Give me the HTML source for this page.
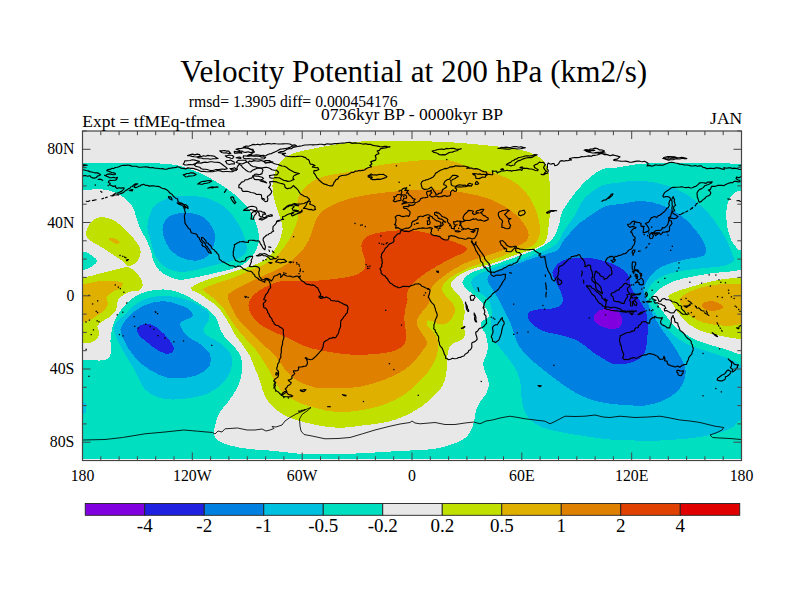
<!DOCTYPE html>
<html><head><meta charset="utf-8"><title>Velocity Potential at 200 hPa</title>
<style>
html,body{margin:0;padding:0;background:#fff;}
body{width:800px;height:600px;position:relative;overflow:hidden;font-family:"Liberation Serif",serif;color:#000;}
.t{position:absolute;white-space:nowrap;line-height:1;font-family:"Liberation Serif",serif;}
.t span{display:inline-block}
</style></head><body>
<svg width="800" height="600" viewBox="0 0 800 600" style="position:absolute;left:0;top:0">
<defs><clipPath id="fr"><rect x="82.5" y="131.0" width="659.0" height="328.0"/></clipPath></defs>
<g clip-path="url(#fr)" shape-rendering="crispEdges">
<rect x="82.5" y="131.0" width="659.0" height="329.5" fill="#e8e8e8"/>
<path d="M60.0,360.0 C63.8,340.0 75.5,360.0 83.0,360.0 C90.5,360.0 100.3,361.2 105.0,360.0 C109.7,358.8 110.1,355.8 111.0,352.5 C111.9,349.2 110.2,344.2 110.5,340.0 C110.8,335.8 111.3,331.7 112.5,327.5 C113.7,323.3 115.0,319.2 117.5,315.0 C120.0,310.8 123.8,306.0 127.5,302.5 C131.2,299.0 135.4,295.8 140.0,293.8 C144.6,291.7 150.0,290.6 155.0,290.0 C160.0,289.4 165.0,289.2 170.0,290.0 C175.0,290.8 180.7,293.1 185.0,295.0 C189.3,296.9 193.2,299.8 196.0,301.5 C198.8,303.2 200.0,304.2 202.0,305.5 C204.0,306.8 206.2,308.1 208.0,309.5 C209.8,310.9 211.6,312.4 213.0,314.0 C214.4,315.6 215.6,317.3 216.5,319.0 C217.4,320.7 217.8,322.2 218.5,324.0 C219.2,325.8 219.7,328.2 220.5,330.0 C221.3,331.8 222.4,333.3 223.5,335.0 C224.6,336.7 225.4,338.2 227.0,340.0 C228.6,341.8 231.2,343.6 233.0,345.5 C234.8,347.4 236.7,349.6 238.0,351.5 C239.3,353.4 240.3,354.6 241.0,357.0 C241.7,359.4 242.0,362.5 242.0,366.0 C242.0,369.5 242.0,374.0 241.0,378.0 C240.0,382.0 238.2,386.0 236.0,390.0 C233.8,394.0 230.7,398.3 228.0,402.0 C225.3,405.7 222.0,408.7 220.0,412.0 C218.0,415.3 217.0,418.7 216.0,422.0 C215.0,425.3 213.8,429.0 214.0,432.0 C214.2,435.0 214.3,437.8 217.0,440.0 C219.7,442.2 224.5,444.0 230.0,445.5 C235.5,447.0 242.5,448.1 250.0,449.0 C257.5,449.9 266.7,450.2 275.0,451.0 C283.3,451.8 291.7,453.2 300.0,453.8 C308.3,454.3 316.7,454.5 325.0,454.5 C333.3,454.5 341.7,454.1 350.0,453.8 C358.3,453.4 366.7,453.0 375.0,452.5 C383.3,452.0 392.5,451.4 400.0,451.0 C407.5,450.6 414.2,450.4 420.0,450.0 C425.8,449.6 430.0,449.6 435.0,448.8 C440.0,447.9 445.4,446.5 450.0,445.0 C454.6,443.5 459.2,442.1 462.5,440.0 C465.8,437.9 468.1,435.4 470.0,432.5 C471.9,429.6 472.7,426.2 473.8,422.5 C474.8,418.8 475.2,413.4 476.2,410.0 C477.3,406.6 478.4,404.7 480.0,402.0 C481.6,399.3 484.5,397.0 486.0,394.0 C487.5,391.0 489.0,387.3 489.0,384.0 C489.0,380.7 487.0,377.3 486.0,374.0 C485.0,370.7 483.0,367.0 483.0,364.0 C483.0,361.0 485.2,358.8 486.0,356.0 C486.8,353.2 488.0,350.3 488.0,347.0 C488.0,343.7 487.0,338.9 486.2,336.2 C485.5,333.6 484.6,332.9 483.8,331.2 C482.9,329.6 481.7,327.7 481.2,326.2 C480.8,324.8 480.6,323.6 481.2,322.5 C481.9,321.4 483.8,320.4 485.0,319.4 C486.2,318.4 488.3,317.6 488.8,316.2 C489.2,314.9 488.3,313.1 487.5,311.2 C486.7,309.4 485.2,307.1 483.8,305.0 C482.3,302.9 480.6,300.6 478.8,298.8 C476.9,296.9 474.6,295.4 472.5,293.8 C470.4,292.1 467.9,290.9 466.2,289.0 C464.6,287.1 462.5,284.6 462.5,282.5 C462.5,280.4 464.2,278.1 466.2,276.2 C468.3,274.4 471.0,272.9 475.0,271.2 C479.0,269.6 484.6,268.1 490.0,266.2 C495.4,264.4 501.7,262.1 507.5,260.0 C513.3,257.9 519.6,255.8 525.0,253.8 C530.4,251.7 535.7,249.7 540.0,247.5 C544.3,245.3 548.2,243.1 551.0,240.5 C553.8,237.9 555.1,234.9 556.5,232.0 C557.9,229.1 558.6,226.2 559.5,223.0 C560.4,219.8 560.3,215.9 561.8,212.5 C563.2,209.1 565.7,205.8 568.0,202.5 C570.3,199.2 573.0,195.6 575.5,192.5 C578.0,189.4 580.1,186.7 583.0,183.8 C585.9,180.8 589.7,177.5 593.0,175.0 C596.3,172.5 598.9,170.0 603.0,168.8 C607.1,167.5 612.2,168.2 617.5,167.5 C622.8,166.8 628.8,165.2 635.0,164.5 C641.2,163.8 647.5,163.3 655.0,163.0 C662.5,162.7 670.8,162.5 680.0,162.5 C689.2,162.5 699.8,162.8 710.0,163.0 C720.2,163.2 731.8,163.6 741.0,163.8 C750.2,163.9 761.0,159.2 765.0,163.8 C769.0,168.3 769.0,186.7 765.0,191.2 C761.0,195.8 746.0,191.0 741.0,191.2 C736.0,191.5 737.0,191.0 735.0,192.5 C733.0,194.0 730.2,196.7 728.8,200.0 C727.3,203.3 726.5,207.9 726.2,212.5 C726.0,217.1 726.7,222.9 727.5,227.5 C728.3,232.1 729.6,236.5 731.2,240.0 C732.9,243.5 735.9,247.1 737.5,248.8 C739.1,250.4 736.4,249.8 741.0,250.0 C745.6,250.2 761.0,246.5 765.0,250.0 C769.0,253.5 769.0,267.9 765.0,271.2 C761.0,274.6 747.1,270.2 741.0,270.3 C734.9,270.4 733.2,271.2 728.3,271.7 C723.4,272.2 717.8,272.5 711.7,273.3 C705.6,274.1 697.8,275.4 691.7,276.7 C685.6,277.9 680.0,279.0 675.0,280.8 C670.0,282.6 665.0,285.5 661.7,287.5 C658.4,289.5 656.5,291.6 655.0,293.0 C653.5,294.4 652.9,295.5 652.5,296.0 C652.1,296.5 651.5,294.5 652.5,296.0 C653.5,297.5 655.9,301.6 658.3,305.0 C660.7,308.4 663.9,313.1 666.7,316.7 C669.5,320.3 671.7,323.6 675.0,326.7 C678.3,329.8 682.5,332.5 686.7,335.0 C690.9,337.5 695.0,339.8 700.0,341.7 C705.0,343.6 711.7,345.2 716.7,346.7 C721.7,348.2 726.0,349.6 730.0,350.8 C734.0,352.0 735.2,354.1 741.0,354.0 C746.8,353.9 761.0,329.0 765.0,350.0 C769.0,371.0 882.5,458.3 765.0,480.0 C647.5,501.7 177.5,500.0 60.0,480.0 C-57.5,460.0 56.2,380.0 60.0,360.0Z" fill="#00e0c0"/>
<path d="M60.0,163.5 C63.8,159.0 76.3,163.6 83.0,163.5 C89.7,163.4 92.2,163.1 100.0,163.0 C107.8,162.9 120.0,162.9 130.0,163.0 C140.0,163.1 151.7,163.0 160.0,163.5 C168.3,164.0 173.3,164.4 180.0,166.0 C186.7,167.6 193.3,170.0 200.0,173.0 C206.7,176.0 213.3,179.7 220.0,184.0 C226.7,188.3 234.7,194.0 240.0,199.0 C245.3,204.0 249.0,208.8 252.0,214.0 C255.0,219.2 256.9,225.2 258.0,230.0 C259.1,234.8 259.3,238.8 258.5,243.0 C257.7,247.2 255.6,251.4 253.0,255.0 C250.4,258.6 246.8,262.1 243.0,264.5 C239.2,266.9 234.7,268.1 230.0,269.5 C225.3,270.9 220.0,271.8 215.0,273.0 C210.0,274.2 204.2,275.6 200.0,276.5 C195.8,277.4 193.2,277.9 190.0,278.5 C186.8,279.1 184.0,279.9 181.0,279.8 C178.0,279.7 175.0,279.1 172.0,278.0 C169.0,276.9 165.5,275.2 163.0,273.5 C160.5,271.8 158.6,269.8 157.0,267.5 C155.4,265.2 154.2,262.8 153.2,260.0 C152.2,257.2 151.9,253.8 151.0,251.0 C150.1,248.2 149.2,246.2 148.0,243.5 C146.8,240.8 145.0,237.5 143.5,234.5 C142.0,231.5 140.2,228.5 139.0,225.5 C137.8,222.5 137.0,219.5 136.0,216.5 C135.0,213.5 134.5,210.2 133.0,207.5 C131.5,204.8 130.0,202.5 127.0,200.0 C124.0,197.5 119.5,194.3 115.0,192.5 C110.5,190.7 105.3,189.3 100.0,189.0 C94.7,188.7 89.7,190.2 83.0,190.5 C76.3,190.8 63.8,195.0 60.0,190.5 C56.2,186.0 56.2,168.0 60.0,163.5Z" fill="#00e0c0"/>
<path d="M60.0,251.8 C63.9,248.8 78.1,251.0 83.5,251.8 C88.9,252.5 90.2,254.8 92.5,256.2 C94.8,257.8 97.0,259.1 97.0,260.8 C97.0,262.4 94.8,264.5 92.5,266.0 C90.2,267.5 88.9,269.1 83.5,269.8 C78.1,270.4 63.9,272.8 60.0,269.8 C56.1,266.8 56.1,254.8 60.0,251.8Z" fill="#00e0c0"/>
<path d="M147.5,225.0 C147.8,222.0 148.8,217.3 150.0,214.0 C151.2,210.7 152.3,207.5 155.0,205.0 C157.7,202.5 161.8,200.5 166.0,199.0 C170.2,197.5 173.5,196.5 180.0,196.2 C186.5,196.0 197.5,195.6 205.0,197.5 C212.5,199.4 219.6,203.3 225.0,207.5 C230.4,211.7 234.3,217.8 237.5,222.5 C240.7,227.2 242.4,231.8 244.0,236.0 C245.6,240.2 247.0,244.3 247.0,247.5 C247.0,250.7 245.8,252.9 243.8,255.0 C241.8,257.1 239.0,258.5 235.0,260.0 C231.0,261.5 225.0,262.5 220.0,263.8 C215.0,265.0 210.0,266.2 205.0,267.5 C200.0,268.8 195.0,270.6 190.0,271.2 C185.0,271.9 179.6,272.3 175.0,271.2 C170.4,270.2 165.8,267.7 162.5,265.0 C159.2,262.3 156.9,258.8 155.0,255.0 C153.1,251.2 152.4,246.3 151.2,242.5 C150.1,238.7 148.6,234.9 148.0,232.0 C147.4,229.1 147.2,228.0 147.5,225.0Z" fill="#00c0e0"/>
<path d="M114.0,327.0 C114.5,324.5 116.2,322.4 118.5,320.0 C120.8,317.6 124.8,315.0 127.5,312.5 C130.2,310.0 132.0,307.2 135.0,305.0 C138.0,302.8 141.5,300.5 145.5,299.0 C149.5,297.5 154.2,296.4 159.0,296.0 C163.8,295.6 169.0,296.0 174.0,296.8 C179.0,297.5 185.2,299.2 189.0,300.5 C192.8,301.8 194.7,303.2 197.0,304.5 C199.3,305.8 201.3,306.9 203.0,308.0 C204.7,309.1 206.2,309.8 207.2,311.0 C208.3,312.2 209.2,313.5 209.5,315.0 C209.8,316.5 209.4,318.3 208.8,320.0 C208.1,321.7 206.6,323.4 205.8,325.0 C204.9,326.6 203.6,328.1 203.5,329.5 C203.4,330.9 204.0,332.2 205.0,333.5 C206.0,334.8 207.9,335.9 209.5,337.0 C211.1,338.1 213.0,339.0 214.8,340.0 C216.5,341.0 218.4,341.9 220.0,343.0 C221.6,344.1 223.0,345.3 224.5,346.8 C226.0,348.2 227.8,349.8 229.0,351.5 C230.2,353.2 231.0,354.9 231.5,357.0 C232.0,359.1 232.2,361.5 232.0,364.0 C231.8,366.5 231.3,369.0 230.0,372.0 C228.7,375.0 226.7,379.0 224.0,382.0 C221.3,385.0 217.3,387.8 214.0,390.0 C210.7,392.2 208.0,393.7 204.0,395.0 C200.0,396.3 195.2,397.2 190.0,398.0 C184.8,398.8 178.0,399.7 172.5,399.5 C167.0,399.3 161.6,398.7 157.0,397.0 C152.4,395.3 147.9,392.3 145.0,389.5 C142.1,386.7 141.4,383.6 139.5,380.0 C137.6,376.4 135.8,372.0 133.5,368.0 C131.2,364.0 128.2,359.8 126.0,356.0 C123.8,352.2 121.8,349.0 120.0,345.5 C118.2,342.0 116.5,338.1 115.5,335.0 C114.5,331.9 113.5,329.5 114.0,327.0Z" fill="#00c0e0"/>
<path d="M635.0,180.5 C629.2,180.5 625.2,181.8 620.0,182.5 C614.8,183.2 608.3,183.3 603.5,185.0 C598.7,186.7 594.8,189.6 591.0,192.5 C587.2,195.4 583.6,198.8 581.0,202.5 C578.4,206.2 577.6,210.8 575.5,214.5 C573.4,218.2 570.7,221.3 568.5,224.5 C566.3,227.7 564.3,230.4 562.5,233.5 C560.7,236.6 559.9,240.4 557.5,243.0 C555.1,245.6 552.6,246.8 548.0,249.0 C543.4,251.2 535.9,254.0 530.0,256.2 C524.1,258.5 518.3,260.6 512.5,262.5 C506.7,264.4 500.0,265.8 495.0,267.5 C490.0,269.2 486.0,270.8 482.5,272.5 C479.0,274.2 475.6,275.8 473.8,277.5 C471.9,279.2 471.2,280.4 471.2,282.5 C471.3,284.6 472.5,288.2 474.0,290.0 C475.5,291.8 478.0,291.8 480.0,293.0 C482.0,294.2 484.3,295.8 486.0,297.5 C487.7,299.2 489.0,300.6 490.0,303.0 C491.0,305.4 491.8,308.5 492.0,312.0 C492.2,315.5 490.8,319.7 491.0,324.0 C491.2,328.3 491.5,334.0 493.0,338.0 C494.5,342.0 497.5,344.7 500.0,348.0 C502.5,351.3 505.5,354.7 508.0,358.0 C510.5,361.3 513.0,364.3 515.0,368.0 C517.0,371.7 519.0,376.0 520.0,380.0 C521.0,384.0 520.6,388.0 521.0,392.0 C521.4,396.0 521.7,400.3 522.5,404.0 C523.3,407.7 524.4,411.2 526.0,414.0 C527.6,416.8 529.2,418.8 532.0,421.0 C534.8,423.2 537.8,425.7 542.5,427.5 C547.2,429.3 552.9,430.5 560.0,432.0 C567.1,433.5 576.7,435.0 585.0,436.2 C593.3,437.5 601.7,438.8 610.0,439.5 C618.3,440.2 626.7,440.3 635.0,440.5 C643.3,440.7 651.7,440.8 660.0,440.5 C668.3,440.2 677.5,439.5 685.0,438.8 C692.5,438.0 699.2,437.3 705.0,436.2 C710.8,435.2 715.4,434.0 720.0,432.5 C724.6,431.0 729.0,429.6 732.5,427.5 C736.0,425.4 735.6,421.2 741.0,420.0 C746.4,418.8 761.0,430.2 765.0,420.0 C769.0,409.8 769.0,368.0 765.0,358.8 C761.0,349.5 745.8,364.0 741.0,364.5 C736.2,365.0 738.3,363.1 736.0,362.0 C733.7,360.9 730.5,359.3 727.0,358.0 C723.5,356.7 719.0,355.3 715.0,354.0 C711.0,352.7 706.9,351.3 703.0,350.0 C699.1,348.7 695.5,347.7 691.7,346.0 C687.9,344.3 683.6,342.4 680.0,340.0 C676.4,337.6 673.0,334.8 670.0,331.7 C667.0,328.6 664.5,325.3 661.7,321.7 C658.9,318.1 655.7,313.7 653.3,310.0 C650.9,306.3 648.6,302.2 647.5,299.5 C646.4,296.8 646.7,294.9 646.5,294.0 C646.3,293.1 646.1,295.1 646.5,294.0 C646.9,292.9 647.9,289.6 649.0,287.5 C650.1,285.4 650.9,283.6 653.3,281.7 C655.7,279.8 659.4,277.5 663.3,275.8 C667.2,274.1 671.7,272.8 676.7,271.7 C681.7,270.6 687.8,269.9 693.3,269.2 C698.8,268.5 705.0,268.0 710.0,267.5 C715.0,267.0 719.7,266.8 723.3,266.0 C726.9,265.2 729.7,264.2 731.5,263.0 C733.3,261.8 733.8,260.3 734.0,259.0 C734.2,257.7 733.4,257.3 732.5,255.0 C731.6,252.7 730.2,248.3 728.8,245.0 C727.3,241.7 725.6,238.3 723.8,235.0 C721.9,231.7 719.8,228.3 717.5,225.0 C715.2,221.7 712.9,218.3 710.0,215.0 C707.1,211.7 703.8,208.3 700.0,205.0 C696.2,201.7 692.1,197.9 687.5,195.0 C682.9,192.1 677.9,189.6 672.5,187.5 C667.1,185.4 661.2,183.7 655.0,182.5 C648.8,181.3 640.8,180.5 635.0,180.5Z" fill="#00c0e0"/>
<path d="M60.0,402.0 C63.8,400.0 78.7,401.0 83.0,402.0 C87.3,403.0 86.0,406.0 86.0,408.0 C86.0,410.0 87.3,413.0 83.0,414.0 C78.7,415.0 63.8,416.0 60.0,414.0 C56.2,412.0 56.2,404.0 60.0,402.0Z" fill="#00c0e0"/>
<path d="M162.5,230.0 C162.4,227.2 162.9,224.8 164.0,222.5 C165.1,220.2 166.7,218.0 169.0,216.5 C171.3,215.0 174.5,214.1 178.0,213.5 C181.5,212.9 186.3,212.7 190.0,213.0 C193.7,213.3 197.2,214.3 200.0,215.5 C202.8,216.7 205.0,218.1 207.0,220.0 C209.0,221.9 210.7,224.5 212.0,227.0 C213.3,229.5 214.8,231.8 215.0,235.0 C215.2,238.2 214.8,242.5 213.5,246.0 C212.2,249.5 210.2,253.6 207.5,256.0 C204.8,258.4 201.2,260.0 197.5,260.5 C193.8,261.0 189.0,260.2 185.5,259.2 C182.0,258.3 179.2,256.9 176.5,255.0 C173.8,253.1 171.0,250.7 169.0,248.0 C167.0,245.3 165.6,242.0 164.5,239.0 C163.4,236.0 162.6,232.8 162.5,230.0Z" fill="#0080e0"/>
<path d="M121.2,327.5 C122.7,324.6 126.0,318.8 130.0,315.0 C134.0,311.2 139.6,307.3 145.0,305.0 C150.4,302.7 156.7,301.2 162.5,301.2 C168.3,301.2 175.4,303.5 180.0,305.0 C184.6,306.5 187.9,308.1 190.0,310.0 C192.1,311.9 193.3,314.6 192.5,316.2 C191.7,317.9 187.1,318.8 185.0,320.0 C182.9,321.2 180.2,321.7 180.0,323.8 C179.8,325.8 182.3,330.1 184.0,332.5 C185.7,334.9 188.2,336.6 190.0,338.0 C191.8,339.4 192.9,339.8 194.5,340.8 C196.1,341.7 198.0,342.5 199.8,343.8 C201.5,345.0 203.5,346.9 205.0,348.2 C206.5,349.6 207.8,350.5 208.8,352.0 C209.7,353.5 210.3,354.8 210.5,357.0 C210.7,359.2 211.3,362.4 210.0,365.0 C208.7,367.6 206.2,370.4 202.5,372.5 C198.8,374.6 193.3,376.7 187.5,377.5 C181.7,378.3 173.8,378.8 167.5,377.5 C161.2,376.2 155.4,373.3 150.0,370.0 C144.6,366.7 139.2,362.1 135.0,357.5 C130.8,352.9 127.3,346.7 125.0,342.5 C122.7,338.3 121.9,335.0 121.2,332.5 C120.6,330.0 119.8,330.4 121.2,327.5Z" fill="#0080e0"/>
<path d="M637.5,201.2 C632.5,201.5 627.8,202.9 622.5,203.8 C617.2,204.6 610.4,204.6 605.5,206.2 C600.6,207.9 597.2,211.0 593.0,213.8 C588.8,216.5 584.2,219.4 580.5,222.5 C576.8,225.6 573.4,229.4 570.5,232.5 C567.6,235.6 565.1,238.3 563.0,241.2 C560.9,244.2 560.2,248.0 558.0,250.0 C555.8,252.0 553.8,251.8 550.0,253.0 C546.2,254.2 540.4,255.7 535.0,257.5 C529.6,259.3 522.9,261.9 517.5,263.8 C512.1,265.6 506.9,267.1 502.5,268.8 C498.1,270.4 493.8,272.1 491.2,273.8 C488.8,275.4 487.9,277.1 487.5,278.8 C487.1,280.4 487.8,281.9 488.8,283.8 C489.7,285.6 491.5,287.6 493.0,290.0 C494.5,292.4 496.2,294.7 498.0,298.0 C499.8,301.3 502.0,306.0 504.0,310.0 C506.0,314.0 508.3,318.0 510.0,322.0 C511.7,326.0 512.5,330.0 514.0,334.0 C515.5,338.0 516.7,342.2 519.0,346.0 C521.3,349.8 524.5,353.5 528.0,357.0 C531.5,360.5 535.7,363.5 540.0,367.0 C544.3,370.5 549.3,374.5 554.0,378.0 C558.7,381.5 563.3,385.0 568.0,388.0 C572.7,391.0 577.3,393.8 582.0,396.0 C586.7,398.2 591.0,399.7 596.0,401.0 C601.0,402.3 606.7,403.3 612.0,404.0 C617.3,404.7 623.3,404.7 628.0,405.0 C632.7,405.3 636.2,406.1 640.0,406.0 C643.8,405.9 647.0,405.2 650.5,404.5 C654.0,403.8 657.8,402.8 661.0,401.5 C664.2,400.2 667.2,398.8 670.0,397.0 C672.8,395.2 675.5,393.0 677.5,391.0 C679.5,389.0 680.8,387.2 682.0,385.0 C683.2,382.8 684.4,380.0 685.0,377.5 C685.6,375.0 685.8,372.4 685.5,370.0 C685.2,367.6 684.5,365.4 683.5,363.0 C682.5,360.6 680.9,358.0 679.5,355.5 C678.1,353.0 676.6,350.5 675.0,348.0 C673.4,345.5 671.5,342.7 670.0,340.5 C668.5,338.3 667.4,336.9 666.0,335.0 C664.6,333.1 663.4,331.5 661.7,329.0 C660.0,326.5 657.8,323.0 656.0,320.0 C654.2,317.0 652.4,313.8 651.0,311.0 C649.6,308.2 648.6,305.7 647.5,303.0 C646.4,300.3 645.2,297.3 644.5,295.0 C643.8,292.7 643.4,290.7 643.5,289.0 C643.6,287.3 644.1,286.8 645.0,285.0 C645.9,283.2 647.5,280.2 649.0,278.0 C650.5,275.8 651.9,273.9 654.0,272.0 C656.1,270.1 658.5,268.3 661.7,266.7 C664.9,265.1 669.4,263.7 673.3,262.5 C677.2,261.3 681.4,260.3 685.0,259.5 C688.6,258.7 692.1,258.3 695.0,257.8 C697.9,257.3 700.6,257.3 702.5,256.2 C704.4,255.2 706.0,253.5 706.2,251.2 C706.5,249.0 705.2,245.6 703.8,242.5 C702.3,239.4 699.8,235.6 697.5,232.5 C695.2,229.4 692.9,226.7 690.0,223.8 C687.1,220.8 683.8,217.7 680.0,215.0 C676.2,212.3 672.1,209.6 667.5,207.5 C662.9,205.4 657.5,203.5 652.5,202.5 C647.5,201.5 642.5,201.0 637.5,201.2Z" fill="#0080e0"/>
<path d="M137.0,328.8 C137.4,326.8 139.9,325.1 142.5,324.5 C145.1,323.9 149.2,323.7 152.5,325.0 C155.8,326.3 159.4,329.6 162.5,332.5 C165.6,335.4 169.4,339.6 171.2,342.5 C173.1,345.4 174.4,348.1 173.8,350.0 C173.1,351.9 170.2,353.8 167.5,353.8 C164.8,353.8 160.8,351.9 157.5,350.0 C154.2,348.1 150.4,344.8 147.5,342.5 C144.6,340.2 141.8,338.5 140.0,336.2 C138.2,334.0 136.6,330.7 137.0,328.8Z" fill="#2020e0"/>
<path d="M552.5,272.5 C552.7,270.2 554.4,267.9 556.0,266.0 C557.6,264.1 559.7,262.2 562.0,261.0 C564.3,259.8 566.6,259.3 570.0,258.8 C573.4,258.2 578.3,257.5 582.5,257.5 C586.7,257.5 590.8,258.0 595.0,258.8 C599.2,259.5 603.8,260.8 607.5,262.0 C611.2,263.2 614.6,264.7 617.5,266.2 C620.4,267.8 623.1,269.6 625.0,271.2 C626.9,272.9 627.9,274.4 628.8,276.2 C629.6,278.1 629.4,280.2 630.0,282.5 C630.6,284.8 631.2,287.5 632.5,290.0 C633.8,292.5 635.8,295.0 637.5,297.5 C639.2,300.0 641.0,302.5 642.5,305.0 C644.0,307.5 645.4,309.6 646.2,312.5 C647.1,315.4 647.3,318.8 647.5,322.5 C647.7,326.2 647.7,330.8 647.5,335.0 C647.3,339.2 647.1,344.0 646.2,347.5 C645.4,351.0 644.4,354.0 642.5,356.2 C640.6,358.5 637.9,360.0 635.0,361.2 C632.1,362.5 628.8,363.3 625.0,363.8 C621.2,364.2 616.0,364.5 612.5,363.8 C609.0,363.0 607.1,360.8 604.0,359.0 C600.9,357.2 597.3,355.3 594.0,353.0 C590.7,350.7 587.3,347.3 584.0,345.0 C580.7,342.7 578.0,340.7 574.0,339.0 C570.0,337.3 564.7,336.2 560.0,335.0 C555.3,333.8 550.0,333.3 546.0,332.0 C542.0,330.7 538.8,329.0 536.0,327.0 C533.2,325.0 530.3,322.2 529.0,320.0 C527.7,317.8 527.2,315.7 528.0,314.0 C528.8,312.3 530.7,310.8 534.0,310.0 C537.3,309.2 544.0,309.5 548.0,309.0 C552.0,308.5 555.5,308.5 558.0,307.0 C560.5,305.5 562.7,302.8 563.0,300.0 C563.3,297.2 561.3,293.3 560.0,290.0 C558.7,286.7 556.2,282.9 555.0,280.0 C553.8,277.1 552.3,274.8 552.5,272.5Z" fill="#2020e0"/>
<path d="M593.8,317.0 C594.1,315.4 595.5,313.2 597.0,312.0 C598.5,310.8 599.9,310.0 602.5,309.5 C605.1,309.0 609.6,308.0 612.5,308.8 C615.4,309.5 618.3,311.7 620.0,313.8 C621.7,315.8 622.7,319.0 622.5,321.2 C622.3,323.5 620.8,326.2 618.8,327.5 C616.7,328.8 613.1,329.3 610.0,329.0 C606.9,328.7 602.5,326.8 600.0,325.5 C597.5,324.2 596.0,322.9 595.0,321.5 C594.0,320.1 593.4,318.6 593.8,317.0Z" fill="#8000e0"/>
<path d="M367.5,141.2 C360.0,141.5 356.2,141.8 350.0,142.5 C343.8,143.2 336.2,144.5 330.0,145.5 C323.8,146.5 317.9,147.7 312.5,148.8 C307.1,149.8 301.7,150.8 297.5,152.0 C293.3,153.2 290.4,154.2 287.5,156.0 C284.6,157.8 282.1,159.8 280.0,162.5 C277.9,165.2 276.2,168.8 275.0,172.5 C273.8,176.2 272.7,180.8 272.5,185.0 C272.3,189.2 272.9,193.3 273.8,197.5 C274.6,201.7 276.3,206.2 277.5,210.0 C278.7,213.8 280.2,216.7 281.0,220.0 C281.8,223.3 282.9,226.2 282.5,230.0 C282.1,233.8 280.4,238.8 278.8,242.5 C277.1,246.2 275.2,249.4 272.5,252.5 C269.8,255.6 266.2,258.7 262.5,261.0 C258.8,263.3 253.8,265.1 250.0,266.5 C246.2,267.9 244.2,268.2 240.0,269.5 C235.8,270.8 230.0,273.0 225.0,274.5 C220.0,276.0 214.6,277.2 210.0,278.8 C205.4,280.3 200.6,282.3 197.5,283.8 C194.4,285.2 192.3,286.9 191.2,287.5 C190.2,288.1 191.0,287.0 191.2,287.5 C191.5,288.0 191.0,289.4 192.5,290.5 C194.0,291.6 197.6,292.6 200.0,294.0 C202.4,295.4 204.8,297.5 207.0,299.0 C209.2,300.5 211.3,301.8 213.0,303.0 C214.7,304.2 215.7,305.2 217.0,306.5 C218.3,307.8 219.8,309.5 221.0,311.0 C222.2,312.5 222.9,313.8 224.0,315.5 C225.1,317.2 226.4,319.2 227.5,321.0 C228.6,322.8 229.5,324.2 230.5,326.0 C231.5,327.8 232.3,330.0 233.5,332.0 C234.7,334.0 236.1,336.0 237.5,338.0 C238.9,340.0 240.6,342.0 242.0,344.0 C243.4,346.0 244.7,348.0 246.0,350.0 C247.3,352.0 248.7,353.3 250.0,356.0 C251.3,358.7 252.5,362.3 254.0,366.0 C255.5,369.7 257.7,374.3 259.0,378.0 C260.3,381.7 260.8,384.7 262.0,388.0 C263.2,391.3 264.0,394.7 266.0,398.0 C268.0,401.3 270.7,405.0 274.0,408.0 C277.3,411.0 281.7,413.8 286.0,416.0 C290.3,418.2 295.7,419.7 300.0,421.0 C304.3,422.3 307.4,423.0 312.0,424.0 C316.6,425.0 322.0,426.4 327.5,427.0 C333.0,427.6 339.2,427.8 345.0,427.5 C350.8,427.2 356.3,426.3 362.5,425.5 C368.7,424.7 376.6,423.9 382.2,422.9 C387.9,421.9 391.9,420.9 396.2,419.4 C400.6,417.9 404.4,416.2 408.5,414.1 C412.6,412.1 417.0,409.7 420.8,407.1 C424.5,404.5 428.0,401.3 431.2,398.4 C434.5,395.5 437.8,392.5 440.0,389.6 C442.2,386.7 443.4,384.1 444.5,381.0 C445.6,377.9 446.0,374.5 446.5,371.0 C447.0,367.5 447.3,362.7 447.5,360.0 C447.7,357.3 447.3,356.9 447.5,355.0 C447.7,353.1 447.9,350.6 448.8,348.8 C449.6,346.9 450.8,345.0 452.5,343.8 C454.2,342.5 456.9,342.3 458.8,341.2 C460.6,340.2 462.7,339.0 463.8,337.5 C464.8,336.0 465.0,334.2 465.0,332.5 C465.0,330.8 464.1,329.2 463.8,327.5 C463.4,325.8 463.0,324.4 463.1,322.5 C463.2,320.6 464.2,318.5 464.4,316.2 C464.6,314.0 464.7,311.2 464.4,308.8 C464.1,306.2 463.4,303.5 462.5,301.2 C461.6,299.0 460.2,296.9 458.8,295.0 C457.3,293.1 455.1,291.7 453.8,290.0 C452.4,288.3 450.7,286.6 450.5,285.0 C450.3,283.4 451.5,282.0 452.8,280.5 C454.0,279.0 455.9,277.4 458.0,276.0 C460.1,274.6 463.0,273.0 465.5,271.8 C468.0,270.6 470.2,269.7 473.0,268.8 C475.8,267.9 479.0,267.1 482.0,266.2 C485.0,265.4 488.0,264.6 491.0,263.7 C494.0,262.8 496.0,262.4 500.0,261.0 C504.0,259.6 510.4,256.6 515.0,255.0 C519.6,253.4 523.8,252.5 527.5,251.2 C531.2,250.0 534.6,249.0 537.5,247.5 C540.4,246.0 543.3,244.6 545.0,242.5 C546.7,240.4 546.9,237.9 547.5,235.0 C548.1,232.1 548.3,228.8 548.8,225.0 C549.2,221.2 549.8,216.7 550.0,212.5 C550.2,208.3 550.0,204.2 550.0,200.0 C550.0,195.8 550.2,191.7 550.0,187.5 C549.8,183.3 549.4,178.8 548.8,175.0 C548.1,171.2 547.7,167.9 546.2,165.0 C544.8,162.1 542.7,159.6 540.0,157.5 C537.3,155.4 534.2,154.0 530.0,152.5 C525.8,151.0 520.8,149.8 515.0,148.8 C509.2,147.7 502.5,147.1 495.0,146.2 C487.5,145.4 478.3,144.5 470.0,143.8 C461.7,143.0 453.3,142.4 445.0,142.0 C436.7,141.6 428.3,141.4 420.0,141.2 C411.7,141.1 403.8,141.2 395.0,141.2 C386.2,141.2 375.0,141.0 367.5,141.2Z" fill="#c0e000"/>
<path d="M86.2,234.5 C86.0,232.8 86.5,230.8 87.0,229.0 C87.5,227.2 88.3,225.6 89.5,224.0 C90.7,222.4 92.2,220.6 94.0,219.5 C95.8,218.4 97.2,217.4 100.0,217.2 C102.8,217.1 107.0,217.4 110.5,218.8 C114.0,220.1 117.8,222.9 121.0,225.5 C124.2,228.1 127.2,231.5 130.0,234.5 C132.8,237.5 135.8,240.8 137.5,243.5 C139.2,246.2 140.2,248.5 140.5,251.0 C140.8,253.5 140.0,256.4 139.0,258.5 C138.0,260.6 136.4,262.4 134.5,263.8 C132.6,265.1 128.9,266.0 127.8,266.5 C126.6,267.0 128.9,267.6 127.8,266.5 C126.6,265.4 123.6,262.1 121.0,260.0 C118.4,257.9 115.0,256.0 112.0,254.0 C109.0,252.0 106.0,249.9 103.0,248.0 C100.0,246.1 96.5,244.2 94.0,242.8 C91.5,241.2 89.3,240.4 88.0,239.0 C86.7,237.6 86.4,236.2 86.2,234.5Z" fill="#c0e000"/>
<path d="M60.0,277.2 C63.9,266.2 76.8,277.9 83.5,277.2 C90.2,276.6 94.8,274.8 100.0,273.5 C105.2,272.2 110.4,270.9 115.0,269.8 C119.6,268.6 125.6,267.2 127.8,266.8 C129.9,266.2 126.6,266.1 127.8,266.8 C128.9,267.4 132.4,268.6 134.5,270.5 C136.6,272.4 139.1,275.5 140.5,278.0 C141.9,280.5 143.0,283.4 142.8,285.5 C142.5,287.6 140.8,289.6 139.0,290.5 C137.2,291.4 134.4,290.3 132.0,291.0 C129.6,291.7 126.8,293.2 124.5,294.5 C122.2,295.8 119.8,297.2 118.5,299.0 C117.2,300.8 117.5,303.0 117.0,305.0 C116.5,307.0 116.8,309.0 115.5,311.0 C114.2,313.0 111.8,315.2 109.5,317.0 C107.2,318.8 104.0,320.0 102.0,321.5 C100.0,323.0 98.0,324.2 97.5,326.0 C97.0,327.8 99.0,330.0 99.0,332.0 C99.0,334.0 98.8,336.2 97.5,338.0 C96.2,339.8 93.9,341.6 91.5,342.5 C89.1,343.4 88.5,343.1 83.2,343.2 C78.0,343.4 63.9,354.2 60.0,343.2 C56.1,332.2 56.1,288.2 60.0,277.2Z" fill="#c0e000"/>
<path d="M765.0,277.5 C761.0,267.2 748.0,277.2 741.0,277.5 C734.0,277.8 729.0,278.4 723.3,279.2 C717.6,280.0 712.0,281.2 706.7,282.5 C701.4,283.8 696.4,285.3 691.7,286.7 C687.0,288.1 681.8,289.6 678.3,290.8 C674.8,292.0 672.7,293.1 671.0,294.0 C669.3,294.9 668.8,296.1 668.3,296.5 C667.8,296.9 667.5,295.1 668.3,296.5 C669.1,297.9 671.3,301.9 673.3,305.0 C675.2,308.1 677.2,311.7 680.0,315.0 C682.8,318.3 686.1,322.2 690.0,325.0 C693.9,327.8 698.3,329.9 703.3,331.7 C708.3,333.5 713.7,334.6 720.0,335.8 C726.3,337.1 733.5,338.6 741.0,339.2 C748.5,339.8 761.0,349.5 765.0,339.2 C769.0,328.9 769.0,287.8 765.0,277.5Z" fill="#c0e000"/>
<path d="M450.0,160.5 C442.5,159.2 433.3,159.7 425.0,160.0 C416.7,160.3 407.5,161.7 400.0,162.5 C392.5,163.3 386.2,164.0 380.0,165.0 C373.8,166.0 368.3,167.5 362.5,168.8 C356.7,170.0 350.4,171.5 345.0,172.5 C339.6,173.5 334.6,174.0 330.0,175.0 C325.4,176.0 321.2,177.1 317.5,178.8 C313.8,180.4 310.4,182.5 307.5,185.0 C304.6,187.5 301.7,190.8 300.0,193.8 C298.3,196.7 297.7,199.8 297.5,202.5 C297.3,205.2 298.8,207.1 298.8,210.0 C298.8,212.9 298.3,216.7 297.5,220.0 C296.7,223.3 295.4,226.2 293.8,230.0 C292.1,233.8 290.2,238.3 287.5,242.5 C284.8,246.7 281.2,251.4 277.5,255.0 C273.8,258.6 269.6,261.4 265.0,264.0 C260.4,266.6 255.0,268.3 250.0,270.5 C245.0,272.7 240.0,275.1 235.0,277.0 C230.0,278.9 224.5,280.4 220.0,282.0 C215.5,283.6 210.9,285.2 208.0,286.5 C205.1,287.8 203.4,289.0 202.5,289.5 C201.6,290.0 201.6,288.8 202.5,289.5 C203.4,290.2 206.1,292.5 208.0,294.0 C209.9,295.5 212.1,296.9 214.0,298.5 C215.9,300.1 217.8,301.8 219.5,303.5 C221.2,305.2 222.7,307.2 224.0,309.0 C225.3,310.8 226.3,312.7 227.5,314.5 C228.7,316.3 229.5,317.8 231.0,320.0 C232.5,322.2 234.2,325.0 236.5,328.0 C238.8,331.0 241.8,334.3 245.0,338.0 C248.2,341.7 252.8,346.0 256.0,350.0 C259.2,354.0 261.7,358.3 264.0,362.0 C266.3,365.7 268.3,369.0 270.0,372.0 C271.7,375.0 272.5,377.3 274.0,380.0 C275.5,382.7 277.0,385.5 279.0,388.0 C281.0,390.5 283.2,392.8 286.0,395.0 C288.8,397.2 292.3,399.2 296.0,401.0 C299.7,402.8 304.0,404.7 308.0,406.0 C312.0,407.3 316.8,408.2 320.0,409.0 C323.2,409.8 323.3,410.5 327.5,411.0 C331.7,411.5 339.2,412.2 345.0,412.0 C350.8,411.8 356.7,411.0 362.5,410.0 C368.3,409.0 374.7,407.6 380.0,406.0 C385.3,404.4 390.3,402.1 394.5,400.1 C398.7,398.1 401.8,396.2 405.0,394.0 C408.2,391.8 411.1,389.3 413.8,387.0 C416.4,384.7 418.7,382.1 420.8,380.0 C422.8,377.9 424.5,376.3 426.0,374.5 C427.5,372.7 428.9,370.6 430.0,369.0 C431.1,367.4 431.7,366.5 432.5,365.0 C433.3,363.5 434.3,361.7 435.0,360.0 C435.7,358.3 436.4,356.9 436.9,355.0 C437.4,353.1 437.9,350.8 438.1,348.8 C438.3,346.7 438.4,344.6 438.1,342.5 C437.8,340.4 437.2,338.1 436.2,336.2 C435.3,334.4 433.9,332.8 432.5,331.2 C431.1,329.7 429.0,328.3 428.1,326.9 C427.2,325.5 426.9,324.2 426.9,323.1 C426.9,322.1 427.2,320.9 428.1,320.6 C429.0,320.3 430.9,320.7 432.5,321.2 C434.1,321.8 435.6,323.2 437.5,323.8 C439.4,324.3 441.8,324.8 443.8,324.4 C445.7,324.0 447.8,322.6 449.4,321.2 C451.0,319.9 452.2,318.0 453.1,316.2 C454.0,314.5 454.9,312.5 455.0,310.6 C455.1,308.7 454.6,306.8 453.8,305.0 C452.9,303.2 451.5,301.7 450.0,300.0 C448.5,298.3 446.3,296.8 445.0,295.0 C443.7,293.2 442.1,291.0 442.0,289.0 C441.9,287.0 443.1,284.7 444.5,282.8 C445.9,280.8 448.2,279.1 450.5,277.5 C452.8,275.9 455.5,274.4 458.0,273.0 C460.5,271.6 463.0,270.4 465.5,269.2 C468.0,268.1 470.2,267.2 473.0,266.2 C475.8,265.2 479.0,264.2 482.0,263.2 C485.0,262.2 488.0,261.2 491.0,260.2 C494.0,259.2 496.4,258.6 500.0,257.2 C503.6,255.9 508.3,253.4 512.5,252.0 C516.7,250.6 521.5,249.9 525.0,248.8 C528.5,247.6 531.5,246.9 533.8,245.0 C536.0,243.1 537.7,240.4 538.8,237.5 C539.8,234.6 540.2,231.2 540.0,227.5 C539.8,223.8 538.8,219.2 537.5,215.0 C536.2,210.8 534.6,206.5 532.5,202.5 C530.4,198.5 527.9,194.6 525.0,191.2 C522.1,187.9 518.8,185.0 515.0,182.5 C511.2,180.0 507.1,178.1 502.5,176.2 C497.9,174.4 492.9,172.7 487.5,171.2 C482.1,169.8 476.2,169.3 470.0,167.5 C463.8,165.7 457.5,161.8 450.0,160.5Z" fill="#e0b000"/>
<path d="M109.0,238.2 C109.6,237.8 113.1,237.9 115.0,238.7 C116.9,239.4 120.2,241.9 120.2,242.8 C120.2,243.6 116.5,243.8 115.0,243.5 C113.5,243.2 112.2,242.1 111.2,241.2 C110.2,240.4 108.4,238.7 109.0,238.2Z" fill="#e0b000"/>
<path d="M60.0,284.0 C63.9,277.6 76.8,284.5 83.5,284.0 C90.2,283.5 94.8,281.5 100.0,281.0 C105.2,280.5 111.2,280.6 115.0,281.0 C118.8,281.4 121.5,282.2 122.5,283.2 C123.5,284.3 122.2,286.3 121.0,287.5 C119.8,288.7 117.2,289.6 115.5,290.5 C113.8,291.4 112.5,291.8 111.0,293.0 C109.5,294.2 107.0,295.8 106.5,297.5 C106.0,299.2 108.2,301.5 108.0,303.5 C107.8,305.5 106.8,307.5 105.0,309.5 C103.2,311.5 100.0,313.8 97.5,315.5 C95.0,317.2 92.4,318.9 90.0,320.0 C87.6,321.1 88.2,321.9 83.2,322.2 C78.2,322.6 63.9,328.6 60.0,322.2 C56.1,315.9 56.1,290.4 60.0,284.0Z" fill="#e0b000"/>
<path d="M765.0,284.2 C761.0,277.5 747.1,284.3 741.0,284.2 C734.9,284.1 732.9,283.7 728.3,283.8 C723.7,283.9 718.3,284.2 713.3,285.0 C708.3,285.8 702.7,286.9 698.3,288.3 C693.9,289.7 689.6,291.9 686.7,293.3 C683.8,294.8 682.2,296.0 681.0,297.0 C679.8,298.0 679.5,299.1 679.2,299.5 C678.9,299.9 678.5,298.0 679.2,299.5 C679.9,301.0 681.2,305.4 683.3,308.3 C685.4,311.2 688.4,314.3 691.7,316.7 C695.0,319.1 699.1,321.1 703.3,322.5 C707.5,323.9 712.2,324.4 716.7,325.0 C721.2,325.6 726.0,325.9 730.0,325.8 C734.0,325.7 735.2,324.5 741.0,324.2 C746.8,323.9 761.0,330.9 765.0,324.2 C769.0,317.5 769.0,290.9 765.0,284.2Z" fill="#e0b000"/>
<path d="M450.0,190.5 C444.2,189.8 440.0,189.6 435.0,189.5 C430.0,189.4 425.0,189.8 420.0,190.0 C415.0,190.2 410.0,190.2 405.0,190.5 C400.0,190.8 395.0,191.5 390.0,192.0 C385.0,192.5 380.0,193.0 375.0,193.8 C370.0,194.5 365.0,195.2 360.0,196.2 C355.0,197.3 349.6,198.5 345.0,200.0 C340.4,201.5 336.2,203.2 332.5,205.0 C328.8,206.8 325.2,208.5 322.5,211.0 C319.8,213.5 317.7,216.8 316.0,220.0 C314.3,223.2 313.7,226.7 312.5,230.0 C311.3,233.3 310.4,236.7 308.8,240.0 C307.1,243.3 305.2,246.7 302.5,250.0 C299.8,253.3 296.2,257.0 292.5,260.0 C288.8,263.0 284.6,265.5 280.0,268.0 C275.4,270.5 270.0,272.7 265.0,275.0 C260.0,277.3 254.8,279.7 250.0,282.0 C245.2,284.3 239.8,286.8 236.0,289.0 C232.2,291.2 228.9,294.0 227.5,295.0 C226.1,296.0 227.3,294.2 227.5,295.0 C227.7,295.8 227.9,298.2 228.5,300.0 C229.1,301.8 230.0,303.8 231.0,306.0 C232.0,308.2 233.2,310.7 234.5,313.0 C235.8,315.3 236.9,317.5 239.0,320.0 C241.1,322.5 244.2,325.0 247.0,328.0 C249.8,331.0 252.7,334.7 256.0,338.0 C259.3,341.3 263.5,344.7 267.0,348.0 C270.5,351.3 274.2,354.7 277.0,358.0 C279.8,361.3 281.7,365.0 284.0,368.0 C286.3,371.0 288.3,373.7 291.0,376.0 C293.7,378.3 296.8,380.3 300.0,382.0 C303.2,383.7 306.7,385.0 310.0,386.0 C313.3,387.0 314.2,387.7 320.0,388.0 C325.8,388.3 337.9,388.3 345.0,388.0 C352.1,387.7 356.7,387.4 362.5,386.2 C368.3,385.1 374.6,383.1 380.0,381.2 C385.4,379.4 390.4,377.3 395.0,375.0 C399.6,372.7 403.8,370.4 407.5,367.5 C411.2,364.6 414.8,360.6 417.5,357.5 C420.2,354.4 422.2,351.2 423.8,349.0 C425.3,346.8 426.5,345.5 426.9,344.0 C427.3,342.5 426.9,341.5 426.2,340.0 C425.6,338.5 424.4,336.9 423.1,335.0 C421.9,333.1 419.8,330.8 418.8,328.8 C417.7,326.7 416.9,324.6 416.9,322.5 C416.9,320.4 417.6,318.3 418.8,316.2 C419.9,314.2 422.1,312.1 423.8,310.0 C425.4,307.9 427.7,305.8 428.8,303.8 C429.8,301.7 429.8,299.5 430.0,297.5 C430.2,295.5 429.6,293.3 430.0,291.5 C430.4,289.7 431.1,288.4 432.5,286.5 C433.9,284.6 436.2,282.2 438.5,280.2 C440.8,278.2 443.2,276.4 446.0,274.5 C448.8,272.6 452.0,270.3 455.0,268.5 C458.0,266.7 461.0,265.1 464.0,263.7 C467.0,262.3 470.0,261.3 473.0,260.2 C476.0,259.2 479.0,258.2 482.0,257.2 C485.0,256.2 488.0,255.2 491.0,254.2 C494.0,253.2 497.2,252.2 500.0,251.2 C502.8,250.3 504.4,249.7 507.5,248.8 C510.6,247.8 515.6,246.8 518.8,245.5 C521.9,244.2 524.6,243.0 526.2,241.2 C527.9,239.5 528.8,237.3 528.8,235.0 C528.8,232.7 527.7,230.2 526.2,227.5 C524.8,224.8 522.7,221.7 520.0,218.8 C517.3,215.8 513.8,212.7 510.0,210.0 C506.2,207.3 501.7,204.6 497.5,202.5 C493.3,200.4 489.6,199.0 485.0,197.5 C480.4,196.0 475.8,194.9 470.0,193.8 C464.2,192.6 455.8,191.2 450.0,190.5Z" fill="#e08000"/>
<path d="M701.7,304.2 C702.3,303.1 704.5,302.1 706.7,301.7 C708.9,301.3 712.2,300.9 715.0,301.7 C717.8,302.5 722.8,305.3 723.3,306.7 C723.8,308.1 720.5,309.3 718.3,310.0 C716.1,310.7 712.5,311.1 710.0,310.8 C707.5,310.5 704.7,309.4 703.3,308.3 C701.9,307.2 701.1,305.3 701.7,304.2Z" fill="#e08000"/>
<path d="M365.0,238.0 C367.2,236.1 370.8,234.7 375.0,233.5 C379.2,232.3 384.2,231.5 390.0,231.0 C395.8,230.5 404.2,230.0 410.0,230.2 C415.8,230.5 420.0,231.4 425.0,232.5 C430.0,233.6 435.0,235.4 440.0,237.0 C445.0,238.6 451.0,240.8 455.0,242.2 C459.0,243.8 462.0,244.9 464.0,246.0 C466.0,247.1 467.0,247.9 467.0,249.0 C467.0,250.1 466.0,251.5 464.0,252.8 C462.0,254.0 458.0,255.1 455.0,256.5 C452.0,257.9 449.0,259.4 446.0,261.0 C443.0,262.6 440.0,264.5 437.0,266.2 C434.0,268.0 430.8,269.8 428.0,271.5 C425.2,273.2 422.9,274.9 420.5,276.8 C418.1,278.6 415.6,280.9 413.8,282.8 C411.9,284.6 410.4,286.1 409.2,288.0 C408.1,289.9 407.3,292.0 407.0,294.0 C406.7,296.0 407.8,297.3 407.5,300.0 C407.2,302.7 405.5,306.7 405.0,310.0 C404.5,313.3 404.3,316.7 404.4,320.0 C404.5,323.3 405.3,326.7 405.6,330.0 C405.9,333.3 406.5,337.3 406.0,340.0 C405.5,342.7 404.2,344.3 402.5,346.0 C400.8,347.7 398.9,348.8 396.0,350.0 C393.1,351.2 389.8,352.2 385.0,353.0 C380.2,353.8 373.3,354.2 367.5,354.5 C361.7,354.8 355.8,354.8 350.0,354.5 C344.2,354.2 337.5,353.2 332.5,352.5 C327.5,351.8 323.8,350.8 320.0,350.0 C316.2,349.2 313.3,349.0 310.0,348.0 C306.7,347.0 303.3,345.5 300.0,344.0 C296.7,342.5 294.2,340.9 290.0,339.0 C285.8,337.1 279.3,334.5 275.0,332.5 C270.7,330.5 267.2,328.9 264.0,327.0 C260.8,325.1 258.2,323.3 256.0,321.0 C253.8,318.7 251.8,315.7 250.5,313.0 C249.2,310.3 248.2,307.7 248.5,305.0 C248.8,302.3 250.1,299.5 252.0,297.0 C253.9,294.5 257.0,292.0 260.0,290.0 C263.0,288.0 266.7,286.4 270.0,285.0 C273.3,283.6 275.8,282.2 280.0,281.5 C284.2,280.8 290.0,281.1 295.0,281.0 C300.0,280.9 305.0,281.2 310.0,281.0 C315.0,280.8 319.2,280.6 325.0,280.0 C330.8,279.4 339.5,278.5 345.0,277.5 C350.5,276.5 354.7,275.6 358.0,274.0 C361.3,272.4 363.8,270.3 365.0,268.0 C366.2,265.7 365.4,262.7 365.0,260.0 C364.6,257.3 363.1,254.5 362.5,252.0 C361.9,249.5 361.1,247.3 361.5,245.0 C361.9,242.7 362.8,239.9 365.0,238.0Z" fill="#e04000"/>
</g>
<g clip-path="url(#fr)" fill="none" stroke="#000" stroke-width="1.15" stroke-linejoin="round" stroke-linecap="round">
<path d="M106.7,170.7 L108.0,169.5 L110.0,169.4 L111.7,168.4 L113.6,168.5 L115.3,167.5 L117.3,167.3 L118.9,166.7 L121.1,165.7 L123.3,165.3 L125.5,165.4 L127.6,165.0 L129.7,165.4 L131.7,166.1 L134.0,166.2 L136.2,166.3 L138.6,167.3 L140.9,167.2 L143.4,167.0 L145.7,166.9 L148.0,167.1 L150.1,167.8 L152.7,167.5 L155.1,168.2 L157.6,168.3 L160.0,168.8 L162.5,168.6 L164.7,169.3 L166.8,169.2 L168.5,168.4 L170.4,168.3 L172.2,167.9 L173.9,167.8 L175.9,167.4 L177.6,166.7 L179.5,167.3 L181.2,168.3 L183.3,168.4 L185.7,168.9 L188.0,167.9 L190.5,168.3 L193.0,168.3 L195.4,169.1 L197.6,169.7 L199.5,170.7 L201.5,171.5 L203.8,171.2 L206.1,171.7 L208.3,171.7 L210.7,171.6 L212.5,171.8 L214.5,171.3 L216.2,171.0 L217.7,170.5 L220.4,170.9 L222.8,171.7 L225.4,171.5 L227.7,171.5 L230.2,171.8 L232.4,171.6 L234.4,170.8 L236.1,170.5 L237.0,169.3 L237.0,167.5 L238.0,165.9 L239.2,164.1 L240.4,165.0 L241.8,166.0 L242.4,167.3 L243.8,168.4 L245.0,169.4 L246.3,170.5 L248.4,171.7 L250.7,172.0 L252.6,170.2 L254.6,169.4 L256.5,168.4 L258.2,167.9 L260.1,168.2 L261.8,168.2 L263.0,170.5 L262.3,171.9 L262.0,173.6 L260.2,174.4 L258.4,174.5 L256.4,174.0 L254.7,174.3 L253.7,175.6 L252.5,176.8 L251.6,178.1 L249.8,178.4 L247.8,179.6 L245.3,179.7 L243.9,181.5 L241.6,182.1 L240.5,183.7 L238.8,185.2 L238.9,186.4 L238.8,187.6 L240.4,188.0 L241.7,188.5 L241.9,190.2 L242.9,191.4 L245.0,191.4 L247.0,191.2 L249.1,191.7 L250.8,192.5 L252.9,192.7 L254.8,193.3 L256.6,194.5 L258.9,194.4 L261.4,194.8 L261.6,196.9 L262.1,198.9 L263.8,200.4 L265.5,201.7 L267.5,201.1 L267.9,198.6 L267.3,197.4 L267.5,196.2 L269.0,195.4 L270.3,194.3 L271.3,192.9 L271.8,191.4 L270.9,190.1 L269.9,188.4 L268.6,187.6 L269.6,186.5 L270.4,185.0 L270.1,183.2 L269.5,181.9 L271.1,181.6 L272.9,181.4 L274.6,181.6 L276.6,181.9 L278.3,182.8 L280.4,183.3 L282.0,183.6 L283.9,184.2 L284.8,185.3 L284.9,187.0 L286.0,188.1 L287.7,188.8 L288.8,188.2 L290.4,188.2 L291.9,187.2 L293.3,185.5 L294.9,187.0 L296.9,188.8 L298.3,190.3 L299.2,192.2 L300.5,194.0 L302.3,194.9 L304.3,196.3 L307.0,197.0 L308.2,198.2 L309.5,199.5 L308.3,201.7 L306.2,202.2 L304.0,203.5 L302.2,203.7 L300.5,204.0 L298.5,204.1 L296.7,204.0 L294.7,203.5 L293.0,204.1 L291.3,204.9 L289.3,205.0 L287.3,206.0 L285.6,207.5 L284.3,208.5 L283.2,209.7 L285.1,208.7 L286.6,207.0 L288.4,206.6 L290.2,205.6 L292.1,205.5 L294.1,206.6 L293.4,207.6 L292.1,208.4 L292.7,209.5 L293.3,210.6 L295.0,211.1 L296.8,211.3 L298.0,211.9 L299.3,212.0 L300.5,212.8 L298.0,213.4 L295.9,214.3 L294.0,215.1 L292.2,215.9 L291.2,214.4 L292.5,213.5 L294.0,212.8 L292.5,212.4 L291.3,213.2 L289.6,213.8 L287.5,214.5 L285.9,215.4 L284.5,216.2 L282.8,216.5 L282.4,218.7 L283.7,219.3 L282.4,219.3 L281.3,219.8 L279.2,220.3 L277.5,220.9 L276.7,221.8 L275.9,223.7 L274.3,225.3 L273.1,226.4 L273.0,227.9 L272.8,229.9 L273.7,231.0 L271.5,232.3 L270.7,233.3 L269.2,233.5 L268.3,234.7 L266.8,235.0 L265.3,236.3 L263.5,238.0 L263.1,239.2 L263.2,240.6 L264.1,242.6 L264.4,244.6 L265.3,245.8 L265.4,247.2 L264.9,249.8 L263.1,248.3 L262.1,246.4 L261.4,245.0 L260.2,243.7 L260.0,242.5 L259.1,241.0 L257.5,240.9 L255.6,241.0 L254.3,240.3 L252.5,240.3 L251.4,240.2 L249.9,240.3 L248.4,240.5 L248.5,242.5 L246.2,242.1 L244.9,242.3 L243.4,241.4 L241.8,241.8 L239.8,241.7 L238.7,242.5 L237.2,242.9 L235.9,244.1 L234.2,244.7 L234.6,246.6 L233.8,248.2 L233.8,250.0 L233.1,252.0 L233.5,253.4 L233.1,254.9 L233.5,256.3 L234.2,257.6 L234.9,259.1 L235.8,260.7 L237.0,260.9 L238.3,261.8 L239.5,262.0 L240.8,262.0 L242.1,261.3 L243.4,261.3 L244.8,261.0 L245.7,259.9 L245.7,258.6 L246.7,257.5 L248.3,257.0 L249.9,256.3 L251.4,256.3 L252.7,256.4 L252.3,257.9 L251.7,259.4 L251.1,260.4 L251.5,261.8 L250.6,263.6 L250.1,265.1 L249.2,266.4 L251.8,266.8 L253.6,266.4 L255.5,266.4 L256.9,266.6 L258.0,267.0 L259.5,268.2 L259.5,270.3 L258.8,272.0 L258.9,273.6 L259.1,275.3 L259.5,276.7 L260.6,277.8 L261.8,279.5 L263.6,279.8 L266.0,278.3 L267.9,278.6 L268.9,279.2 L270.3,280.0 L271.2,281.1 L272.3,279.8 L273.3,278.2 L273.8,276.6 L275.3,275.7 L276.6,275.5 L277.9,274.7 L280.0,273.5 L280.9,275.2 L280.6,277.5 L282.1,276.1 L283.9,273.9 L285.1,275.3 L286.7,276.0 L288.4,276.2 L290.4,276.1 L292.1,277.0 L293.8,276.9 L295.7,276.4 L297.7,276.0 L299.5,278.1 L300.3,279.0 L301.2,280.2 L302.5,281.3 L304.1,282.1 L305.3,283.3 L306.5,284.2 L308.6,284.4 L310.5,284.9 L311.8,285.1 L312.9,284.9 L314.7,285.7 L316.0,286.9 L317.8,288.0 L318.6,290.1 L319.5,292.1 L320.4,293.3 L320.7,294.7 L319.8,296.9 L321.5,296.6 L323.2,297.7 L324.7,297.8 L325.9,296.9 L327.9,297.7 L329.9,298.7 L331.0,300.5 L332.6,300.8 L334.4,300.7 L336.0,301.2 L337.9,301.1 L339.1,301.7 L340.5,302.4 L342.2,303.2 L343.5,304.1 L345.4,304.9 L347.0,305.4 L347.9,306.9 L348.0,308.5 L347.5,310.6 L347.3,312.9 L346.1,313.8 L345.0,315.6 L343.8,316.7 L343.0,318.2 L342.0,319.5 L340.9,320.7 L340.7,322.3 L340.5,324.1 L340.7,326.2 L340.0,328.0 L339.2,329.9 L338.7,332.2 L338.1,334.0 L336.8,335.7 L336.3,336.9 L335.1,337.9 L333.3,337.4 L331.6,338.1 L329.4,338.4 L328.0,339.7 L325.8,340.7 L323.9,342.2 L323.6,343.6 L323.2,345.3 L323.1,346.7 L322.4,348.3 L321.7,350.1 L320.1,351.5 L318.8,353.1 L317.3,354.6 L316.5,355.7 L315.4,356.6 L314.2,357.8 L313.1,358.7 L311.9,359.5 L310.3,359.7 L309.0,359.2 L307.5,359.1 L306.6,357.9 L305.1,357.8 L306.5,359.2 L307.1,360.7 L307.5,363.0 L307.0,364.6 L305.9,366.1 L303.9,366.2 L302.1,366.9 L300.3,367.0 L298.4,367.1 L298.7,368.8 L297.9,370.5 L295.7,370.9 L293.4,370.9 L293.8,372.4 L294.7,373.4 L293.9,374.7 L292.6,375.4 L291.8,376.6 L292.1,378.3 L290.4,379.5 L288.2,380.1 L289.5,381.5 L291.2,382.4 L290.7,383.9 L289.3,385.1 L287.8,385.8 L286.8,387.5 L285.2,388.9 L286.4,390.1 L286.8,391.6 L285.2,391.3 L284.0,392.1 L282.7,392.9 L282.0,394.1 L280.5,394.2 L279.4,393.2 L278.5,392.1 L277.2,391.4 L275.8,390.4 L275.0,388.8 L274.7,387.0 L273.8,385.2 L274.8,384.1 L275.7,382.7 L273.7,381.1 L274.8,379.2 L276.4,378.1 L277.9,377.0 L278.4,375.6 L278.5,374.0 L278.6,372.5 L278.2,371.0 L277.0,369.8 L276.7,368.0 L277.5,366.3 L277.6,364.8 L277.9,363.6 L279.1,362.3 L279.2,360.5 L280.0,358.8 L280.9,357.2 L280.7,354.8 L281.3,352.6 L281.3,350.7 L281.3,349.1 L281.7,346.5 L282.6,344.1 L282.5,341.9 L283.3,339.6 L283.9,337.5 L283.7,335.0 L283.3,333.2 L283.3,331.3 L283.4,329.7 L281.3,327.7 L279.8,327.1 L278.6,325.8 L276.1,325.3 L274.1,323.7 L273.7,322.1 L272.5,321.1 L272.0,319.1 L270.9,317.6 L269.5,316.0 L269.1,314.2 L267.7,312.6 L267.5,310.7 L266.5,309.6 L265.7,308.0 L264.3,307.9 L263.4,306.7 L263.9,305.3 L263.0,304.2 L263.9,302.8 L264.9,302.1 L266.1,300.3 L263.7,299.8 L264.1,298.5 L264.9,297.1 L265.5,295.0 L267.2,293.1 L268.3,291.3 L268.7,289.7 L269.9,288.6 L270.7,287.3 L270.2,285.8 L270.4,283.9 L269.5,282.3 L268.9,280.6 L266.7,279.4 L264.9,280.6 L264.8,282.3 L263.0,281.5 L260.7,280.3 L258.8,279.6 L258.2,278.4 L257.0,277.9 L255.0,276.5 L254.6,274.9 L253.1,273.8 L252.3,272.4 L251.0,271.4 L249.6,271.3 L247.8,270.9 L246.2,270.2 L245.1,269.5 L243.4,269.1 L242.1,267.6 L240.2,266.2 L237.9,266.1 L236.8,266.7 L235.6,267.2 L233.7,266.0 L231.6,265.7 L229.7,265.6 L228.0,264.6 L226.6,263.8 L225.2,262.9 L223.7,262.1 L222.1,261.6 L220.8,260.2 L219.3,259.3 L219.1,257.2 L218.8,255.9 L218.5,254.7 L217.3,253.6 L216.4,252.1 L215.1,251.4 L214.5,250.0 L213.0,249.2 L211.9,248.4 L210.8,245.8 L209.0,244.6 L208.0,243.2 L206.2,242.7 L206.1,241.1 L205.3,240.1 L203.5,238.0 L201.7,237.4 L201.4,238.9 L202.1,240.5 L203.2,241.4 L204.4,242.6 L205.2,243.9 L205.8,245.6 L207.1,246.5 L207.9,248.2 L209.1,249.4 L209.7,250.7 L210.9,251.9 L211.4,253.3 L210.4,253.1 L208.7,252.5 L207.8,251.0 L206.9,249.9 L206.3,248.4 L205.5,247.4 L204.3,246.5 L202.8,246.1 L201.8,244.9 L202.8,243.0 L201.4,242.5 L200.7,241.2 L199.6,239.3 L199.2,237.7 L197.7,236.7 L196.8,234.4 L195.1,233.8 L193.1,233.2 L191.3,232.7 L190.4,230.2 L189.9,229.1 L188.6,228.5 L187.5,226.7 L185.9,224.6 L184.8,222.6 L184.9,221.1 L184.7,219.6 L184.6,218.4 L184.4,217.0 L184.4,215.6 L184.9,214.3 L185.5,212.7 L184.8,211.2 L184.8,209.8 L184.1,208.6 L183.7,207.4 L185.3,207.9 L186.8,207.3 L188.0,208.7 L187.8,206.5 L186.6,205.3 L185.1,204.6 L183.4,204.2 L182.1,203.2 L180.6,202.8 L179.1,202.5 L178.0,201.5 L177.6,198.9 L176.2,198.5 L175.1,197.6 L172.9,195.7 L172.4,194.4 L171.1,193.8 L169.6,192.8 L168.6,191.4 L167.3,190.2 L165.7,189.2 L164.0,188.6 L162.1,188.2 L160.7,187.5 L159.4,186.6 L157.6,186.4 L155.7,186.2 L153.5,185.8 L151.3,185.9 L149.3,186.1 L147.5,185.4 L145.5,185.4 L143.8,184.2 L142.5,184.8 L141.1,184.8 L140.2,185.9 L138.7,186.3 L137.6,187.0 L135.8,187.6 L134.1,187.1 L135.3,184.8 L136.4,184.7 L137.7,183.8 L135.7,183.7 L134.0,184.7 L132.3,186.5 L130.9,186.8 L129.9,188.3 L128.5,188.6 L127.1,189.9 L125.8,190.4 L124.4,191.6 L123.4,192.5 L122.0,193.1 L120.0,193.8 L118.4,194.2 L116.4,195.0 L114.5,195.0 L112.8,196.0 L110.7,195.8 L112.5,195.5 L113.7,194.4 L115.4,193.3 L117.4,193.0 L118.7,192.6 L120.1,191.9 L121.6,191.4 L122.8,190.2 L124.2,188.1 L122.5,187.7 L121.0,188.1 L119.1,187.8 L117.2,188.4 L115.5,187.3 L115.6,185.9 L113.6,186.4 L111.9,185.9 L110.8,185.1 L109.3,184.7 L110.2,183.2 L108.2,182.2 L108.9,180.9 L110.1,180.3 L112.0,180.5 L113.6,180.2 L115.4,180.2 L116.7,179.2 L117.4,177.3 L115.5,178.0 L113.5,177.3 L111.8,177.7 L109.8,177.7 L108.4,176.9 L106.5,176.3 L104.5,175.3 L106.0,175.5 L107.1,174.4 L109.5,173.9 L111.9,174.4 L113.6,174.7 L115.4,174.5 L115.2,173.4 L113.8,172.9 L112.1,172.8 L110.6,172.1 L109.3,171.4 L106.7,170.7"/>
<path d="M278.4,152.6 L280.7,151.5 L283.4,151.5 L285.5,150.3 L287.4,149.1 L289.3,148.6 L291.4,148.7 L292.9,147.5 L295.3,147.0 L297.6,146.5 L299.9,146.1 L302.0,145.8 L304.6,145.0 L307.0,145.0 L309.5,144.7 L311.9,144.8 L314.4,144.8 L317.0,144.7 L319.4,144.2 L321.9,144.2 L324.5,144.9 L327.0,143.8 L329.7,144.1 L332.2,144.1 L334.7,143.5 L337.3,143.6 L339.9,143.2 L342.5,143.1 L344.9,143.0 L347.3,142.5 L349.8,142.4 L352.2,143.4 L354.6,142.9 L356.9,143.1 L359.3,143.2 L361.5,143.7 L363.6,144.1 L365.9,143.7 L368.0,144.4 L370.6,144.3 L372.9,145.4 L375.2,145.7 L377.7,146.1 L379.9,146.6 L382.2,146.7 L384.6,146.4 L386.4,146.4 L388.2,147.0 L390.0,146.9 L387.7,147.1 L385.5,147.9 L383.1,148.1 L380.7,148.6 L379.3,150.4 L377.1,151.0 L378.2,152.3 L379.0,153.7 L377.0,154.2 L375.2,155.7 L376.1,158.2 L375.6,160.1 L373.0,160.9 L370.7,161.9 L371.9,163.9 L369.7,165.4 L371.6,166.8 L369.9,167.3 L368.0,167.7 L366.1,168.7 L364.6,170.0 L362.4,170.4 L360.8,170.8 L358.9,170.5 L357.1,171.2 L355.1,171.1 L353.6,172.5 L351.4,172.4 L349.8,173.6 L348.0,174.5 L345.7,175.1 L343.6,175.2 L341.0,175.8 L338.6,177.0 L338.5,178.1 L337.6,179.1 L335.8,179.8 L335.2,181.2 L333.9,182.5 L333.6,183.9 L332.4,185.9 L331.0,185.9 L329.5,185.7 L327.8,185.2 L325.9,184.4 L324.6,184.1 L323.3,183.6 L321.8,182.5 L320.4,181.3 L319.1,180.2 L317.9,178.6 L316.7,177.5 L316.0,176.0 L315.1,174.4 L313.8,173.0 L314.0,170.5 L316.5,170.6 L318.8,169.4 L317.8,167.5 L315.9,167.7 L314.1,167.2 L312.4,167.1 L313.3,165.8 L315.0,165.6 L312.8,164.4 L310.6,164.2 L309.7,162.7 L309.4,161.2 L308.5,159.6 L306.7,159.0 L305.6,157.6 L304.0,157.1 L301.9,156.3 L299.8,156.2 L297.5,156.4 L295.5,156.7 L293.3,156.6 L291.4,156.8 L289.0,156.5 L286.9,156.2 L284.8,155.9 L283.5,154.8 L282.3,154.4 L284.0,154.1 L285.7,153.3 L283.2,153.2 L280.8,152.9 L278.4,152.6"/>
<path d="M368.1,175.8 L369.6,175.0 L371.1,174.0 L373.2,175.0 L375.1,174.9 L377.3,175.1 L378.8,174.4 L381.3,174.5 L383.4,174.3 L385.2,175.6 L386.9,176.5 L386.2,177.5 L384.8,177.9 L382.4,178.7 L380.2,179.4 L377.7,179.1 L375.3,179.6 L373.0,179.6 L370.7,178.9 L372.2,177.5 L370.0,177.7 L368.0,176.8 L369.9,176.3 L371.9,176.1 L369.9,175.6 L368.1,175.8"/>
<path d="M401.2,230.2 L402.9,230.8 L404.7,231.4 L406.5,231.1 L408.5,231.7 L410.2,231.0 L411.8,230.2 L413.3,229.4 L414.6,229.2 L416.7,229.1 L418.2,228.4 L420.7,228.2 L422.9,227.9 L425.3,228.2 L427.5,228.1 L429.0,227.9 L430.1,227.6 L432.4,228.3 L431.3,229.6 L431.5,231.5 L430.5,233.0 L431.7,234.4 L433.9,235.6 L435.3,235.5 L436.5,235.6 L438.2,236.3 L439.7,236.3 L441.3,238.2 L443.1,239.2 L445.1,240.0 L446.3,240.0 L447.9,239.7 L449.0,238.0 L448.7,236.1 L450.1,236.2 L451.2,235.4 L452.7,236.1 L454.3,236.0 L456.0,236.8 L457.6,237.6 L459.6,238.2 L461.3,238.3 L463.3,238.8 L464.9,239.3 L466.6,239.0 L468.0,238.1 L469.2,238.1 L470.6,238.2 L471.9,238.9 L473.2,238.7 L474.6,238.2 L475.9,236.2 L476.8,235.0 L477.1,233.4 L477.4,232.1 L477.9,230.8 L478.3,228.5 L476.1,228.6 L474.7,229.1 L473.3,229.5 L472.0,229.5 L470.6,229.5 L469.4,229.1 L468.4,228.3 L465.8,229.1 L464.6,228.9 L463.0,228.4 L461.8,227.6 L461.7,226.2 L460.5,225.3 L461.0,223.4 L459.9,222.3 L462.5,221.7 L463.7,221.0 L465.2,220.7 L466.8,220.2 L468.3,220.5 L469.8,220.4 L471.5,219.7 L473.5,218.9 L474.7,219.2 L476.3,218.8 L477.3,219.9 L478.9,220.3 L480.7,219.9 L482.7,220.8 L484.3,221.1 L486.4,220.4 L488.2,219.4 L488.0,217.8 L486.4,217.2 L485.2,215.9 L483.7,215.6 L482.3,214.3 L481.7,213.2 L480.5,212.8 L482.6,211.6 L483.8,209.3 L482.2,209.4 L480.7,209.6 L478.9,210.3 L477.1,210.7 L475.9,212.2 L477.3,212.9 L479.0,212.9 L476.4,213.3 L475.4,214.3 L473.7,214.4 L472.4,213.0 L473.4,211.3 L472.0,210.8 L470.6,210.6 L468.3,210.4 L467.6,211.6 L466.7,212.5 L464.7,214.3 L464.0,215.4 L463.4,216.6 L462.9,218.1 L463.8,219.8 L465.3,220.6 L463.9,221.5 L462.5,221.8 L459.9,221.0 L458.5,221.2 L457.0,220.9 L454.9,222.0 L453.6,221.6 L453.9,224.0 L454.9,224.6 L455.7,226.1 L454.3,226.4 L454.3,229.2 L453.0,228.5 L451.6,228.4 L450.9,225.8 L450.0,224.3 L448.8,223.5 L447.4,221.4 L447.8,219.4 L446.3,218.3 L444.0,217.1 L442.7,216.8 L441.5,216.0 L440.8,214.7 L439.7,213.9 L438.4,212.8 L437.0,213.3 L436.9,212.0 L434.5,212.8 L434.6,214.5 L435.6,215.4 L437.1,215.8 L438.2,218.1 L440.3,218.9 L441.5,219.1 L442.8,219.9 L443.9,220.9 L445.7,222.2 L444.8,222.0 L443.3,221.5 L442.3,222.9 L443.3,224.3 L442.4,225.4 L440.6,226.4 L440.9,224.6 L440.8,222.3 L439.4,221.7 L438.1,221.0 L436.7,220.9 L435.3,220.1 L434.4,219.0 L433.0,218.5 L432.3,216.9 L430.7,216.3 L429.7,215.3 L428.4,214.7 L427.0,214.7 L425.7,215.4 L424.2,215.8 L422.8,216.7 L421.7,216.3 L420.2,216.2 L417.9,217.1 L417.8,219.1 L415.7,220.2 L414.3,220.9 L412.7,221.4 L411.5,223.5 L411.8,225.0 L410.7,226.6 L409.6,227.6 L408.2,228.3 L406.5,228.0 L404.5,228.8 L403.4,229.1 L401.9,229.8 L400.2,228.9 L398.4,227.9 L397.1,227.6 L395.6,228.1 L396.1,225.3 L394.5,224.6 L395.6,223.3 L395.8,221.5 L396.1,219.3 L395.1,217.1 L397.1,215.5 L399.2,215.3 L400.8,216.1 L403.0,216.6 L404.9,216.2 L406.9,215.8 L408.7,216.4 L409.9,214.3 L410.0,211.7 L408.3,210.1 L406.8,208.6 L405.5,208.4 L404.1,208.4 L403.3,206.9 L404.9,206.5 L406.4,206.4 L408.9,206.6 L408.9,204.6 L409.8,205.3 L412.5,205.3 L413.7,204.9 L414.8,204.1 L415.1,202.5 L416.8,202.3 L418.7,201.5 L420.0,200.2 L420.7,198.6 L423.1,197.8 L425.4,197.6 L427.7,197.3 L427.8,196.2 L426.9,194.2 L426.5,192.8 L427.1,191.4 L429.6,191.2 L431.4,190.0 L430.9,192.0 L431.8,192.8 L430.1,194.4 L429.6,195.4 L431.9,196.9 L434.2,196.6 L435.3,196.0 L436.8,196.1 L438.4,196.9 L439.7,196.7 L441.4,196.6 L443.1,195.9 L444.9,195.6 L446.6,196.4 L448.4,196.0 L449.7,195.9 L450.7,194.7 L450.5,192.5 L451.6,190.8 L453.0,189.9 L454.6,191.4 L456.4,191.0 L456.6,189.0 L455.1,188.1 L455.3,187.3 L456.3,186.7 L457.7,187.0 L459.6,186.9 L461.5,187.0 L463.6,186.7 L465.3,186.8 L466.9,186.2 L464.9,185.0 L463.1,185.4 L461.5,185.0 L459.5,184.9 L457.6,185.3 L456.0,186.2 L453.9,186.0 L452.6,185.8 L451.3,184.9 L451.0,182.2 L450.7,180.2 L452.1,180.0 L453.2,179.3 L455.2,178.5 L456.6,177.2 L458.3,176.4 L456.7,175.5 L454.8,175.4 L452.6,175.3 L451.6,176.6 L450.4,178.0 L449.1,179.4 L447.5,179.5 L446.1,180.4 L445.2,181.1 L443.9,183.3 L443.7,184.8 L445.8,185.3 L446.7,186.9 L444.7,188.2 L442.5,189.7 L442.2,191.3 L441.3,192.9 L440.0,193.3 L438.7,193.4 L438.1,194.1 L435.8,194.4 L435.4,192.8 L433.8,190.8 L432.9,189.2 L431.9,187.8 L431.4,187.0 L429.2,188.4 L428.1,189.0 L426.8,189.3 L424.3,189.4 L422.1,188.1 L421.6,185.9 L421.2,184.6 L421.1,183.3 L422.0,181.7 L423.2,180.7 L424.9,180.5 L426.1,179.7 L427.6,179.7 L428.9,179.0 L430.4,178.5 L431.7,177.7 L433.2,176.9 L434.9,174.8 L435.6,173.1 L437.3,172.4 L438.5,171.4 L439.9,170.6 L441.1,170.0 L443.1,169.3 L444.9,168.4 L446.9,168.6 L448.7,167.7 L450.4,166.8 L452.4,166.9 L454.1,166.4 L455.9,165.7 L457.8,166.1 L459.5,166.0 L461.4,166.2 L463.3,166.0 L465.1,166.3 L467.1,166.7 L469.0,167.2 L466.6,168.2 L468.6,168.2 L470.5,168.1 L472.1,168.1 L473.3,169.0 L475.6,168.6 L477.9,168.9 L479.8,169.8 L481.4,170.8 L483.8,171.6 L486.1,171.9 L487.2,173.8 L485.4,174.6 L483.4,174.3 L481.7,174.6 L479.8,173.9 L477.9,174.3 L476.2,173.7 L474.2,173.6 L472.5,173.9 L473.5,174.6 L474.9,175.1 L475.9,176.7 L475.7,178.2 L477.2,178.5 L479.0,178.6 L480.8,177.9 L482.4,177.1 L483.9,177.2 L485.2,177.3 L485.6,176.0 L487.2,174.8 L488.8,174.3 L490.7,174.7 L492.6,174.7 L492.8,173.3 L492.3,170.9 L494.2,171.2 L496.3,171.1 L497.3,173.1 L498.1,172.1 L499.5,171.9 L501.4,170.9 L503.6,170.9 L505.4,170.8 L507.2,170.3 L508.8,170.8 L510.4,170.6 L511.6,171.1 L513.4,170.5 L515.9,170.4 L518.4,169.9 L520.1,169.6 L521.8,170.5 L522.4,169.1 L523.1,168.1 L525.1,168.4 L527.2,168.4 L529.2,168.9 L531.0,169.0 L532.6,169.3 L534.9,170.3 L536.1,170.5 L537.6,170.7 L538.2,169.7 L536.5,168.7 L534.6,167.5 L533.9,165.8 L535.6,164.5 L537.2,164.1 L539.4,162.1 L541.5,162.5 L543.6,162.3 L544.4,163.6 L545.4,164.6 L544.3,166.1 L543.6,167.6 L544.8,169.6 L546.5,171.5 L545.0,172.4 L543.7,174.3 L542.4,174.5 L541.1,174.2 L542.4,174.7 L543.9,174.7 L545.5,173.6 L547.6,173.2 L548.0,171.8 L548.3,170.4 L546.9,168.5 L547.5,167.2 L547.4,165.8 L547.5,164.3 L548.3,163.0 L549.6,163.8 L551.2,164.2 L552.5,163.6 L554.1,163.6 L554.8,165.6 L556.8,165.2 L558.6,163.9 L559.2,162.5 L560.2,161.1 L562.1,160.6 L564.0,161.2 L565.7,160.5 L567.6,160.7 L569.4,160.1 L571.5,160.0 L569.5,158.5 L571.9,158.0 L574.3,157.5 L577.0,157.6 L579.2,157.5 L581.6,156.6 L583.8,156.8 L586.5,156.2 L588.9,155.9 L591.5,156.3 L593.1,155.3 L595.1,155.3 L596.9,155.0 L598.8,154.5 L600.5,153.6 L602.5,153.7 L604.1,154.6 L606.1,154.4 L607.9,154.9 L610.3,155.7 L612.8,154.9 L615.3,155.5 L617.5,156.1 L620.0,156.9 L618.4,158.1 L617.2,159.1 L615.1,159.4 L613.5,160.1 L615.6,160.8 L617.8,160.7 L619.3,161.0 L620.8,161.1 L623.1,161.2 L625.6,161.1 L628.1,161.6 L629.8,162.2 L631.6,162.3 L633.3,161.9 L635.3,161.4 L637.1,161.1 L639.1,161.0 L640.8,161.5 L642.6,161.8 L644.4,161.3 L646.5,162.2 L648.2,163.4 L647.1,165.9 L649.6,165.4 L651.6,166.2 L653.7,165.6 L655.7,164.8 L657.9,165.3 L660.4,165.0 L662.7,165.3 L665.1,164.2 L667.5,163.3 L669.4,162.5 L671.3,162.2 L673.4,162.5 L675.4,163.0 L677.4,163.2 L679.7,164.1 L682.0,164.2 L684.2,165.0 L686.7,165.0 L689.0,165.2 L690.9,166.0 L693.2,166.0 L695.3,165.5 L697.4,166.3 L699.3,165.9 L701.4,165.9 L703.0,167.4 L704.8,167.6 L706.8,168.8 L709.2,168.4 L711.6,168.3 L714.0,168.6 L715.8,167.8 L717.7,167.9 L719.3,168.1 L721.8,168.9 L724.3,169.5 L723.9,167.5 L726.4,168.2 L728.7,167.9 L730.5,167.7 L732.3,168.6 L734.0,168.1 L736.7,168.5 L739.0,169.3 L741.7,169.7"/>
<path d="M82.5,169.6 L84.3,170.0 L86.1,170.5 L88.2,170.9 L89.8,171.6 L91.7,172.0 L93.5,172.5 L95.3,172.9 L97.3,172.9 L99.1,173.6 L100.6,174.7 L99.1,175.6 L97.4,176.1 L96.5,177.4 L95.4,177.9 L92.9,178.1 L90.8,176.9 L89.7,175.7 L87.5,176.2 L85.2,175.5 L83.8,175.6 L82.5,176.5"/>
<path d="M741.5,176.4 L740.2,177.1 L738.8,177.8 L736.8,176.9 L736.0,178.5 L737.7,179.8 L739.8,180.5 L740.1,181.8 L738.0,181.9 L736.0,181.2 L734.1,181.4 L732.5,182.8 L730.7,182.6 L728.6,183.3 L726.8,184.0 L725.3,184.7 L723.9,185.7 L721.9,185.3 L719.6,185.3 L717.6,185.4 L716.1,186.1 L714.1,186.4 L712.0,186.2 L711.0,187.6 L710.5,189.4 L708.4,190.1 L709.6,190.9 L710.4,192.0 L710.8,193.2 L710.0,194.7 L708.7,195.7 L706.4,196.5 L705.0,198.3 L703.6,199.4 L702.3,200.3 L701.1,201.6 L699.3,202.3 L698.5,200.7 L698.0,198.7 L697.3,197.1 L697.2,195.1 L697.0,193.1 L697.7,191.8 L698.4,190.6 L699.7,189.4 L701.3,188.9 L703.2,187.6 L704.7,185.8 L706.2,185.3 L707.7,184.8 L709.5,184.0 L711.2,183.1 L712.2,181.8 L710.1,182.1 L707.8,182.1 L705.7,183.4 L703.9,182.7 L701.7,182.7 L699.6,182.9 L697.7,184.9 L695.9,186.2 L694.7,186.6 L692.6,187.8 L690.3,188.0 L688.7,187.2 L686.1,187.6 L683.8,187.2 L681.7,186.7 L679.6,187.0 L677.3,187.2 L675.2,187.3 L672.9,187.3 L671.1,188.0 L669.6,189.1 L668.1,190.4 L666.3,191.2 L664.5,192.9 L663.7,194.3 L662.9,196.1 L663.6,197.2 L665.5,196.6 L667.5,196.6 L669.0,197.0 L670.3,198.1 L670.5,200.0 L669.5,200.9 L669.2,202.5 L668.7,203.8 L669.4,205.3 L668.3,207.4 L666.6,208.5 L665.7,210.3 L664.3,211.7 L662.7,212.9 L661.4,214.0 L659.8,215.3 L658.0,215.9 L656.5,217.6 L655.1,216.6 L653.7,216.8 L652.5,217.4 L651.1,217.9 L650.5,219.2 L649.7,220.2 L649.1,221.7 L647.9,222.6 L646.3,223.0 L645.4,223.7 L647.2,225.6 L647.9,226.9 L648.7,227.8 L649.0,229.4 L648.8,230.9 L646.4,231.9 L645.0,232.4 L643.3,232.8 L643.2,230.6 L643.8,228.9 L643.1,227.6 L644.2,226.3 L641.3,226.4 L640.7,225.1 L641.2,223.7 L639.6,222.6 L637.4,222.4 L635.3,221.7 L634.5,222.9 L634.3,224.3 L634.1,224.9 L634.3,223.0 L635.4,221.6 L633.5,221.0 L631.6,222.3 L630.1,224.0 L627.6,224.3 L628.1,225.7 L629.8,227.4 L631.3,226.8 L632.8,226.4 L634.6,227.1 L636.1,227.2 L635.5,228.3 L633.6,228.7 L632.3,229.8 L630.6,231.9 L632.1,232.8 L632.5,234.5 L633.3,235.9 L635.1,237.5 L635.0,239.3 L633.5,239.9 L635.3,241.0 L634.7,242.2 L634.6,243.4 L633.9,245.1 L632.8,246.3 L632.1,248.0 L630.9,249.3 L629.2,249.8 L627.9,251.2 L626.8,252.5 L625.1,253.8 L623.1,253.9 L621.1,255.1 L618.6,255.4 L617.2,256.5 L615.0,256.4 L614.0,258.5 L612.7,256.2 L611.3,256.6 L609.9,256.4 L608.8,257.5 L607.4,257.9 L606.5,259.4 L605.5,261.0 L605.9,262.5 L607.0,263.8 L608.8,265.6 L610.1,266.6 L611.1,267.8 L611.4,269.9 L612.0,272.2 L611.8,273.3 L611.7,274.8 L609.6,275.3 L608.3,276.7 L606.9,278.4 L605.5,278.8 L604.4,279.6 L603.6,277.3 L601.3,276.3 L600.1,275.5 L599.5,273.6 L598.4,273.0 L597.0,272.7 L596.8,271.2 L595.3,271.2 L595.1,273.1 L594.7,274.7 L594.5,276.2 L593.9,277.4 L594.4,278.8 L595.0,280.1 L595.8,282.6 L598.0,284.1 L599.8,285.9 L600.6,287.0 L601.2,288.6 L601.3,289.8 L601.6,290.9 L602.6,293.2 L601.6,293.5 L599.8,291.8 L598.5,291.3 L597.6,290.7 L596.0,288.3 L595.9,287.0 L595.6,285.6 L595.3,283.8 L594.6,282.6 L593.4,281.5 L592.2,280.9 L591.8,278.3 L592.5,276.7 L592.7,275.2 L592.3,273.8 L592.2,272.4 L591.8,271.0 L591.1,269.7 L590.8,268.5 L590.6,266.9 L590.7,265.5 L588.1,264.9 L586.3,266.7 L584.6,266.4 L585.3,265.2 L584.9,263.6 L584.7,262.3 L584.0,261.0 L583.1,259.5 L581.7,258.3 L580.6,256.8 L579.9,255.1 L578.8,254.5 L577.5,255.4 L576.3,255.9 L575.1,255.7 L573.2,256.5 L571.3,256.5 L570.9,258.2 L569.0,258.7 L567.6,260.3 L566.0,261.8 L564.3,263.5 L562.6,265.3 L560.6,266.0 L558.7,267.4 L558.6,269.2 L558.8,271.1 L558.3,272.8 L558.2,274.6 L557.4,276.7 L556.1,277.9 L555.5,279.4 L554.1,281.1 L551.9,279.4 L551.2,277.0 L550.5,274.6 L549.7,273.4 L548.7,271.7 L547.8,270.3 L547.4,268.1 L546.5,267.1 L546.4,265.5 L545.9,263.3 L545.7,261.2 L545.0,259.2 L545.0,257.5 L544.9,256.6 L542.9,257.0 L541.0,257.5 L540.2,256.0 L538.8,255.0 L540.8,253.9 L539.1,253.3 L537.6,252.5 L536.4,251.7 L535.1,251.1 L533.9,249.3 L531.9,249.5 L529.8,249.6 L528.3,249.8 L526.4,249.7 L524.4,249.8 L522.3,249.3 L520.0,249.2 L518.5,248.4 L516.9,248.5 L516.2,246.3 L514.3,246.2 L512.5,247.0 L511.3,246.8 L510.0,246.9 L508.0,246.0 L506.2,244.8 L505.6,243.3 L504.5,242.4 L502.7,240.7 L500.9,240.8 L499.8,241.5 L500.6,243.4 L501.3,245.0 L502.4,245.8 L503.7,247.5 L504.5,248.9 L505.9,248.3 L506.7,249.9 L505.9,251.4 L508.0,251.5 L509.5,251.7 L511.0,251.6 L512.4,250.5 L513.5,249.2 L515.0,247.6 L515.8,249.3 L515.5,250.8 L517.1,252.2 L519.4,252.6 L520.4,253.7 L521.5,254.6 L520.0,256.1 L519.7,258.1 L518.3,259.4 L517.7,261.2 L516.9,262.3 L515.3,263.0 L514.2,263.3 L513.2,263.9 L511.6,265.1 L509.6,265.0 L507.9,265.9 L506.0,267.3 L503.7,268.1 L501.8,269.8 L499.8,269.9 L498.1,270.9 L496.4,271.3 L494.2,272.6 L493.0,272.0 L491.7,272.5 L490.7,271.0 L490.2,269.0 L489.8,267.6 L490.2,266.1 L489.2,263.6 L487.4,262.0 L485.8,260.1 L484.5,258.3 L484.4,256.7 L483.6,255.6 L482.1,253.4 L480.5,251.4 L479.2,249.4 L477.7,247.1 L476.9,245.9 L475.9,244.6 L475.8,243.1 L476.1,241.8 L475.3,243.3 L474.8,244.8 L473.6,244.3 L473.0,243.4 L472.4,242.0 L471.8,240.7 L471.3,241.6 L472.5,243.3 L473.4,244.9 L474.5,246.7 L475.3,248.7 L475.7,250.5 L476.8,251.6 L477.8,253.9 L479.4,255.6 L479.8,256.9 L480.1,258.5 L480.4,259.8 L480.7,261.2 L481.7,262.2 L482.7,263.2 L483.1,265.5 L484.2,267.2 L485.9,268.0 L486.9,269.4 L488.1,270.9 L489.9,271.9 L491.0,273.4 L490.9,274.6 L492.3,275.6 L493.7,276.4 L495.6,275.4 L498.2,275.0 L499.9,275.4 L501.5,275.0 L503.6,274.2 L505.7,274.2 L505.2,275.3 L505.4,276.5 L505.1,278.6 L504.0,280.3 L502.5,282.3 L501.5,284.7 L500.4,285.9 L499.7,287.3 L498.2,289.5 L496.4,291.1 L494.2,292.4 L492.4,294.0 L491.0,296.0 L488.9,297.7 L487.3,299.4 L485.7,300.3 L485.2,302.0 L484.2,303.0 L484.2,304.3 L483.7,306.2 L483.1,307.8 L483.9,308.9 L484.5,310.4 L484.9,312.2 L484.1,313.8 L486.0,316.1 L485.9,317.7 L486.3,319.8 L486.4,321.4 L486.6,323.3 L485.3,324.5 L484.1,326.2 L482.2,327.5 L479.7,328.4 L478.6,329.3 L478.1,330.4 L477.0,331.6 L475.8,332.1 L475.8,334.3 L476.5,336.0 L477.0,337.8 L477.1,339.5 L475.7,340.9 L474.2,341.9 L472.2,342.5 L471.7,343.7 L471.8,345.2 L471.9,346.8 L471.4,348.2 L470.4,349.8 L468.7,350.6 L468.2,352.2 L466.7,353.3 L465.1,354.2 L463.9,356.0 L461.9,356.5 L460.4,357.4 L458.6,357.5 L456.9,358.5 L454.6,358.7 L452.4,358.2 L450.6,359.2 L448.5,359.7 L447.2,358.8 L445.5,358.2 L445.8,357.0 L445.3,355.6 L444.3,354.2 L443.9,352.5 L443.1,350.4 L442.1,348.1 L441.0,346.8 L439.6,345.0 L439.4,342.7 L438.5,340.4 L438.7,338.0 L438.5,336.3 L437.2,334.8 L436.7,333.2 L435.4,332.0 L435.2,330.0 L433.7,328.9 L434.0,326.9 L433.9,324.8 L434.7,322.9 L435.1,320.6 L436.1,318.2 L437.2,315.9 L437.1,314.0 L436.4,312.3 L435.6,310.4 L435.3,308.5 L434.6,307.0 L434.3,305.4 L433.5,304.3 L431.7,302.6 L430.3,300.7 L429.6,299.0 L428.3,297.4 L428.6,295.7 L429.5,293.8 L429.7,292.1 L430.1,290.2 L428.3,288.5 L426.6,288.2 L424.8,287.5 L423.6,286.7 L422.0,286.3 L420.2,284.3 L418.4,283.8 L416.8,284.0 L415.1,284.0 L413.6,285.0 L411.4,285.4 L409.1,286.7 L407.9,286.4 L406.5,286.5 L404.7,286.4 L402.9,286.3 L400.7,287.5 L398.3,287.8 L397.1,286.8 L395.6,286.6 L393.4,285.3 L391.7,283.7 L390.3,283.2 L389.3,281.8 L388.3,280.7 L387.7,279.0 L386.2,277.7 L385.1,275.9 L383.0,274.9 L381.2,273.5 L381.1,271.1 L380.0,268.7 L380.9,267.7 L381.9,266.3 L381.6,264.6 L382.5,262.8 L382.0,261.0 L381.9,259.6 L381.9,258.4 L381.0,257.4 L381.5,255.7 L381.7,253.9 L382.8,252.3 L384.1,250.9 L384.9,248.9 L385.9,247.7 L387.4,246.6 L388.2,245.1 L389.8,243.7 L391.7,243.1 L393.0,242.2 L393.9,241.4 L393.9,239.6 L393.8,238.0 L395.3,236.5 L396.5,235.1 L397.8,233.8 L399.8,233.7 L400.4,231.9 L401.3,230.1"/>
<path d="M501.7,227.1 L503.6,227.5 L505.5,228.5 L507.7,228.7 L509.8,228.1 L510.0,226.6 L510.7,225.4 L509.6,224.1 L509.0,222.4 L508.6,221.2 L508.6,220.0 L510.9,218.6 L509.4,218.6 L507.9,218.1 L506.4,216.3 L504.6,214.4 L506.5,213.0 L507.5,211.5 L509.2,210.6 L507.3,209.7 L504.9,210.2 L502.6,210.6 L501.3,211.3 L499.7,211.7 L498.7,212.4 L498.3,213.8 L498.4,215.4 L499.1,216.9 L499.7,218.3 L500.8,219.1 L502.0,220.2 L502.6,221.5 L502.2,223.0 L501.8,224.3 L502.1,225.7 L501.7,227.1"/>
<path d="M518.7,212.5 L519.8,211.1 L521.9,210.8 L523.9,210.2 L524.6,211.2 L525.3,212.5 L524.6,213.7 L523.8,214.6 L522.2,215.0 L520.7,215.8 L518.9,215.1 L518.5,213.8 L518.7,212.5"/>
<path d="M502.3,317.7 L502.4,320.0 L504.0,321.8 L504.2,324.0 L502.9,325.8 L502.4,328.0 L501.8,330.0 L501.5,332.6 L500.8,334.9 L499.9,337.3 L499.1,339.6 L497.3,341.3 L495.2,342.6 L494.1,341.6 L492.7,341.4 L492.4,339.1 L491.3,336.8 L492.1,334.6 L493.1,332.2 L492.9,330.1 L492.5,327.8 L493.7,325.7 L495.3,324.9 L497.3,324.7 L498.5,322.7 L500.1,320.6 L500.8,319.0 L502.3,317.7"/>
<path d="M401.9,204.2 L404.2,203.4 L406.5,202.9 L408.3,202.8 L410.2,202.7 L412.1,202.6 L413.3,202.5 L414.3,201.9 L413.8,200.7 L415.2,199.2 L413.9,198.7 L412.8,198.6 L412.2,197.6 L410.8,196.1 L409.0,195.0 L408.4,193.1 L406.4,193.1 L407.2,191.7 L408.5,190.4 L406.5,190.4 L404.8,190.4 L406.4,188.3 L404.7,188.0 L403.0,188.6 L401.4,190.4 L401.8,192.2 L401.0,193.9 L403.0,195.2 L404.5,194.7 L406.1,195.4 L406.7,197.3 L406.3,198.2 L403.8,198.2 L403.5,199.5 L402.4,200.9 L404.1,201.2 L405.6,201.7 L406.5,201.8 L404.1,202.6 L402.8,203.1 L401.9,204.2"/>
<path d="M401.0,200.2 L400.7,198.0 L401.6,195.9 L400.2,194.8 L398.7,194.5 L397.2,194.5 L396.4,196.1 L395.2,196.7 L393.7,196.8 L394.8,199.0 L393.1,200.8 L394.4,201.6 L396.1,201.6 L397.2,201.0 L399.2,200.6 L401.0,200.2"/>
<path d="M650.4,238.6 L652.6,238.2 L653.0,236.7 L653.5,235.3 L651.8,233.9 L653.2,233.4 L654.4,232.8 L656.9,233.0 L659.1,232.7 L660.6,234.6 L661.9,233.7 L662.7,232.1 L664.7,232.2 L666.5,231.5 L667.9,231.4 L669.4,230.9 L669.6,228.3 L669.4,226.9 L670.4,225.5 L671.2,224.7 L672.0,223.5 L671.5,222.1 L671.2,220.7 L668.7,220.5 L668.3,223.1 L667.2,225.4 L665.6,226.9 L664.3,227.9 L662.9,228.0 L662.4,227.5 L662.1,228.9 L661.1,229.9 L660.1,230.5 L657.8,230.3 L655.6,230.8 L653.9,232.2 L651.6,232.6 L649.8,234.5 L649.5,235.7 L649.5,237.4 L650.4,238.6"/>
<path d="M668.8,219.8 L670.2,218.1 L672.1,218.4 L674.2,218.8 L676.3,218.2 L677.9,216.5 L676.0,215.1 L674.0,214.0 L671.8,212.3 L671.1,214.2 L670.7,216.3 L668.6,217.8 L668.8,219.8"/>
<path d="M672.0,211.5 L673.5,211.2 L674.8,210.2 L673.4,208.7 L673.7,207.5 L674.0,206.2 L675.7,205.3 L674.9,204.0 L674.6,202.2 L674.1,201.0 L674.6,199.6 L673.6,198.1 L673.3,196.6 L672.4,197.8 L671.9,199.1 L671.7,200.6 L672.2,202.3 L672.0,204.0 L672.4,206.1 L671.8,208.0 L672.2,209.7 L672.0,211.5"/>
<path d="M633.1,255.5 L633.4,253.5 L634.6,251.9 L635.0,250.0 L633.4,250.0 L632.5,251.1 L632.1,252.7 L632.9,254.0 L633.1,255.5"/>
<path d="M611.0,260.4 L612.8,260.3 L614.1,258.9 L615.5,259.9 L614.2,261.6 L612.7,262.4 L612.1,261.2 L611.0,260.4"/>
<path d="M558.1,278.0 L559.1,279.5 L560.9,280.4 L561.6,281.4 L561.8,282.9 L560.3,284.2 L558.3,284.7 L557.9,283.0 L557.9,280.9 L557.5,279.5 L558.1,278.0"/>
<path d="M586.5,285.5 L588.4,286.1 L590.7,286.1 L591.7,288.0 L593.8,288.7 L595.2,290.1 L596.3,291.4 L597.6,292.2 L599.5,294.1 L601.6,295.7 L602.0,297.8 L603.5,299.2 L604.7,300.3 L606.3,301.4 L605.9,303.8 L605.6,306.6 L603.1,306.3 L601.5,304.3 L599.1,303.0 L598.0,301.7 L597.1,300.0 L595.9,298.7 L595.0,296.4 L593.1,295.0 L591.5,293.3 L590.3,291.3 L589.5,289.6 L588.3,288.1 L587.1,287.1 L586.5,285.5"/>
<path d="M604.6,308.2 L605.7,307.4 L607.2,306.9 L608.9,307.0 L610.8,307.9 L612.6,307.2 L614.9,307.3 L616.5,307.7 L618.3,308.4 L620.1,308.8 L621.7,310.2 L621.4,311.6 L619.4,311.2 L617.3,310.8 L615.0,310.9 L612.9,310.5 L610.4,310.3 L608.7,309.5 L606.6,309.3 L604.6,308.2"/>
<path d="M611.5,293.0 L614.0,292.5 L615.6,291.2 L617.1,290.1 L619.0,290.0 L619.9,288.1 L621.7,287.0 L623.1,285.2 L624.6,283.5 L626.1,283.1 L627.6,284.5 L629.0,284.7 L630.1,285.9 L627.8,287.9 L627.3,289.6 L627.7,290.7 L628.2,291.9 L630.1,293.8 L628.5,294.3 L626.9,294.6 L627.6,296.2 L627.2,297.6 L625.9,298.8 L625.4,300.3 L624.5,301.6 L624.2,303.3 L621.7,303.3 L620.3,302.5 L618.8,301.6 L616.3,301.6 L615.1,301.3 L613.8,300.7 L613.5,299.5 L613.3,298.3 L612.9,296.6 L611.3,295.8 L611.1,294.4 L611.5,293.0"/>
<path d="M630.8,294.8 L631.8,293.7 L633.0,294.2 L634.3,293.7 L635.8,294.4 L637.1,294.0 L639.1,293.8 L640.7,293.0 L639.9,294.6 L638.5,294.5 L637.2,294.8 L635.3,294.6 L633.6,295.1 L631.8,296.0 L631.4,297.6 L633.6,298.0 L635.1,297.8 L636.5,297.3 L637.8,297.6 L636.8,298.7 L635.3,299.0 L634.6,300.5 L635.8,301.8 L637.0,303.5 L636.1,305.7 L634.6,304.8 L633.6,302.9 L633.3,300.9 L632.4,302.1 L632.5,304.0 L632.6,305.7 L630.7,306.0 L630.4,304.0 L630.7,302.2 L629.5,300.5 L630.5,298.5 L631.1,296.0 L630.8,294.8"/>
<path d="M651.8,297.2 L653.1,296.4 L654.4,296.5 L656.0,296.5 L657.1,297.2 L658.3,299.5 L659.0,301.7 L660.7,301.1 L661.7,299.6 L663.1,298.7 L664.5,298.5 L666.3,299.8 L668.4,299.7 L670.4,300.3 L672.1,301.7 L674.4,302.0 L676.6,302.8 L677.9,303.9 L678.8,305.5 L680.6,305.7 L681.8,306.9 L681.2,308.1 L682.0,309.3 L683.1,310.3 L684.5,311.5 L685.4,313.0 L686.4,314.4 L687.6,314.7 L685.4,314.1 L682.9,314.2 L681.4,313.3 L680.4,312.1 L678.5,310.6 L676.4,309.5 L674.8,311.2 L673.9,312.6 L671.9,313.0 L670.0,312.6 L668.2,311.6 L666.5,310.5 L664.6,310.9 L664.3,308.7 L665.9,308.2 L665.2,307.0 L664.6,305.9 L662.7,305.3 L661.2,304.1 L659.0,303.8 L657.5,302.7 L655.1,303.1 L654.3,302.0 L653.8,301.0 L655.0,300.5 L656.1,300.4 L654.5,299.7 L653.0,299.3 L651.7,298.1 L651.8,297.2"/>
<path d="M632.6,261.9 L634.1,262.0 L635.6,262.2 L635.8,264.6 L634.5,266.8 L634.5,268.4 L635.1,269.7 L637.1,269.8 L638.6,270.7 L638.9,272.4 L637.9,271.7 L636.9,270.8 L634.3,270.6 L632.9,269.7 L632.1,268.5 L632.3,267.3 L632.1,265.9 L632.1,263.9 L632.6,261.9"/>
<path d="M635.3,282.9 L636.7,281.6 L638.0,280.0 L639.8,279.2 L641.2,277.9 L642.4,279.2 L643.3,280.8 L643.3,282.2 L643.5,284.1 L641.6,284.9 L639.2,284.4 L639.1,282.6 L637.4,281.9 L635.3,282.9"/>
<path d="M620.1,336.0 L620.8,335.5 L623.1,334.5 L625.4,333.3 L627.5,332.5 L629.7,332.5 L632.0,331.1 L634.5,330.6 L634.8,329.0 L635.9,327.8 L638.0,327.7 L638.8,325.4 L640.7,324.3 L641.7,322.1 L643.1,321.7 L644.4,321.6 L646.0,321.8 L647.1,322.9 L649.1,323.4 L649.9,321.8 L649.9,320.0 L651.6,318.5 L652.9,317.5 L654.7,317.9 L654.6,316.3 L656.7,317.6 L659.3,317.9 L660.8,318.1 L662.3,317.5 L661.9,319.2 L660.9,320.4 L660.6,321.8 L660.8,323.4 L661.9,324.7 L664.0,325.6 L665.7,326.4 L667.2,327.9 L669.8,327.9 L670.1,325.4 L671.1,323.4 L671.3,321.2 L671.3,319.0 L671.9,317.2 L673.1,315.4 L673.3,317.3 L674.5,318.6 L674.6,320.3 L675.0,322.1 L676.5,322.6 L677.8,323.0 L678.1,325.6 L679.1,327.6 L679.7,329.0 L679.9,330.5 L681.4,331.3 L682.9,332.5 L684.5,334.1 L685.6,336.1 L686.8,337.5 L687.8,338.6 L689.9,339.8 L691.3,341.6 L691.3,343.5 L692.6,345.1 L692.4,346.6 L693.2,347.9 L693.1,350.3 L692.0,352.4 L691.8,354.2 L690.6,355.4 L689.5,356.5 L688.6,358.1 L688.3,360.0 L687.0,361.8 L687.0,363.1 L686.3,364.4 L684.2,364.6 L682.0,365.5 L681.0,366.3 L679.8,367.3 L678.6,366.6 L677.6,366.0 L676.2,366.8 L674.5,366.9 L672.9,366.1 L671.3,366.0 L669.7,365.1 L668.1,364.6 L667.3,363.0 L667.0,361.1 L664.6,360.8 L665.0,359.0 L664.6,357.5 L664.0,356.3 L663.6,357.5 L663.9,358.7 L662.3,359.1 L661.2,359.3 L659.9,359.4 L658.7,357.8 L657.6,356.3 L655.6,355.4 L653.5,354.2 L651.8,354.1 L650.1,353.5 L648.1,353.7 L646.4,354.9 L644.4,354.9 L642.2,355.5 L639.9,356.4 L638.0,357.7 L635.8,358.2 L633.5,357.5 L632.1,358.1 L630.5,358.3 L629.4,359.3 L628.1,359.7 L626.2,359.3 L624.4,359.6 L622.7,358.4 L623.2,356.5 L623.8,354.4 L622.9,352.6 L622.3,350.7 L621.7,349.4 L621.5,347.9 L621.3,345.9 L620.2,344.3 L620.2,342.4 L619.3,340.5 L620.0,338.3 L620.1,336.0"/>
<path d="M676.9,370.4 L678.6,370.3 L680.0,370.9 L681.8,371.2 L683.3,370.6 L683.1,373.0 L682.1,374.0 L681.5,375.6 L679.5,375.5 L678.1,374.7 L677.9,373.0 L676.8,372.0 L676.9,370.4"/>
<path d="M728.2,358.9 L729.6,360.1 L731.1,361.3 L732.3,361.8 L733.4,363.1 L734.4,364.4 L736.3,364.8 L738.5,364.8 L737.5,366.0 L737.5,367.5 L736.2,368.3 L735.6,369.8 L734.3,370.9 L732.7,372.0 L732.1,371.3 L732.9,369.6 L731.5,368.5 L730.3,367.5 L731.4,366.1 L731.7,363.3 L731.1,361.8 L729.7,360.6 L728.2,358.9"/>
<path d="M728.2,369.9 L729.5,370.7 L730.9,371.5 L730.7,372.8 L729.6,374.1 L728.6,375.3 L727.1,376.3 L725.4,376.9 L725.5,378.3 L724.6,379.7 L723.3,380.1 L722.4,380.9 L719.9,380.9 L718.6,380.5 L717.2,380.1 L717.6,378.2 L719.0,377.3 L720.4,376.2 L722.1,375.0 L724.1,374.3 L725.1,373.3 L725.9,372.2 L727.1,370.6 L728.2,369.9"/>
<path d="M299.4,173.5 L297.1,174.2 L295.0,175.1 L293.6,176.1 L292.9,177.9 L294.0,179.6 L292.4,179.9 L291.4,180.7 L289.4,181.2 L287.6,181.4 L285.8,180.6 L283.8,180.5 L282.3,179.6 L280.8,178.8 L279.2,177.8 L277.5,177.7 L275.4,177.5 L273.8,178.0 L272.0,178.3 L270.0,177.8 L269.4,175.6 L271.6,175.2 L274.0,174.8 L276.7,175.0 L277.8,173.8 L278.6,172.2 L276.5,170.3 L274.2,170.2 L272.0,169.7 L270.1,168.5 L268.4,167.8 L266.0,167.2 L263.8,167.6 L261.6,168.1 L259.5,167.7 L257.5,167.6 L255.2,166.8 L253.0,166.6 L251.0,165.6 L249.8,164.2 L248.3,162.8 L249.2,161.0 L251.6,161.6 L253.9,160.6 L256.2,161.0 L258.8,161.1 L261.3,160.5 L263.7,161.4 L265.4,163.2 L267.4,162.6 L269.2,162.6 L271.0,162.3 L272.9,163.0 L274.7,163.7 L276.6,164.3 L278.5,164.5 L280.2,165.4 L281.9,166.0 L284.5,166.3 L286.8,167.4 L287.9,168.6 L289.3,169.4 L291.1,170.5 L292.9,171.6 L294.6,172.4 L297.1,173.0 L299.4,173.5"/>
<path d="M219.8,169.4 L222.2,169.0 L224.7,169.4 L227.3,168.7 L225.5,166.9 L223.6,165.5 L221.7,164.0 L219.7,162.6 L218.0,162.4 L216.1,162.2 L214.3,162.2 L212.1,161.8 L209.9,161.7 L207.7,162.5 L205.5,162.1 L203.5,162.4 L200.9,163.1 L198.4,162.9 L196.1,163.0 L195.3,164.4 L194.3,165.1 L195.8,166.4 L197.7,166.7 L199.7,167.3 L201.3,168.7 L203.1,169.1 L205.2,169.2 L207.0,169.5 L208.7,170.0 L210.6,170.5 L212.5,170.5 L214.5,170.0 L216.1,169.5 L218.0,169.6 L219.8,169.4"/>
<path d="M183.2,164.0 L184.3,162.5 L184.8,160.9 L187.5,160.8 L189.9,160.5 L192.3,159.8 L194.8,160.1 L197.2,160.7 L199.5,161.3 L197.8,162.0 L196.1,163.3 L194.2,164.1 L192.5,164.8 L190.5,164.5 L188.6,164.6 L187.0,165.0 L184.9,165.0 L183.2,164.0"/>
<path d="M247.3,155.7 L249.6,155.6 L251.8,155.2 L254.1,155.3 L256.2,154.9 L258.7,155.0 L261.0,155.6 L263.3,155.4 L265.5,156.0 L267.3,154.8 L269.3,153.9 L271.2,153.8 L272.9,152.7 L274.6,152.1 L276.6,151.2 L278.2,150.2 L280.5,149.1 L282.9,148.9 L285.2,148.5 L287.6,148.1 L289.8,147.4 L292.0,146.2 L294.4,146.2 L296.6,145.8 L294.5,144.8 L292.0,145.2 L289.9,144.0 L287.4,143.7 L285.2,143.8 L282.9,143.9 L280.7,144.0 L278.4,144.0 L276.1,143.8 L273.8,143.5 L271.5,144.0 L269.2,143.5 L266.9,143.6 L264.7,144.3 L262.3,143.9 L260.1,144.9 L257.7,144.2 L255.5,144.8 L253.2,144.4 L251.1,145.3 L248.6,146.2 L246.0,146.1 L243.6,147.1 L246.0,147.8 L248.5,148.4 L251.1,149.6 L252.9,150.4 L254.4,152.0 L252.7,152.8 L251.1,154.2 L249.0,154.7 L247.3,155.7"/>
<path d="M265.6,157.5 L263.9,158.7 L261.8,159.0 L259.7,159.3 L257.5,159.0 L255.3,158.9 L253.1,159.3 L250.8,158.8 L248.5,158.5 L246.0,158.9 L243.8,158.2 L243.1,157.1 L243.6,155.7 L246.0,156.0 L248.5,156.1 L250.9,155.6 L253.2,156.2 L255.5,156.1 L257.8,156.1 L260.0,156.4 L261.9,157.2 L263.8,156.7 L265.6,157.5"/>
<path d="M218.0,158.5 L215.5,158.8 L213.0,158.7 L210.4,159.3 L208.2,158.7 L205.8,158.8 L203.1,158.7 L201.6,158.0 L199.6,158.0 L197.6,157.7 L199.5,156.5 L201.5,156.5 L203.4,155.7 L205.6,156.2 L207.9,155.4 L210.2,155.8 L212.3,155.9 L214.5,156.3 L216.1,157.6 L218.0,158.5"/>
<path d="M241.8,164.0 L239.9,163.5 L238.0,163.0 L236.1,162.3 L238.1,160.4 L240.5,160.3 L243.0,160.2 L245.5,160.3 L247.4,162.2 L245.3,162.4 L243.6,163.4 L241.8,164.0"/>
<path d="M234.4,164.0 L232.0,163.8 L229.6,164.5 L227.0,163.8 L226.4,162.4 L225.4,161.4 L227.0,160.5 L228.9,160.5 L230.5,160.1 L232.6,161.2 L234.2,162.0 L234.4,164.0"/>
<path d="M252.7,152.1 L250.5,152.6 L248.2,151.8 L245.9,152.4 L243.6,152.1 L241.9,151.1 L239.9,150.7 L238.1,150.0 L236.0,149.3 L238.7,148.6 L241.2,148.5 L243.6,147.6 L245.9,147.9 L248.2,148.0 L250.4,149.2 L252.9,149.2 L253.2,150.7 L252.7,152.1"/>
<path d="M252.7,175.8 L254.6,175.9 L256.4,176.1 L258.4,176.1 L260.2,176.7 L262.1,177.3 L263.5,178.4 L262.0,179.6 L260.1,180.1 L258.3,179.5 L256.4,179.6 L254.5,179.4 L253.5,177.7 L252.7,175.8"/>
<path d="M303.5,208.4 L304.5,207.1 L305.8,205.8 L306.8,203.7 L307.8,201.2 L310.3,201.3 L310.1,202.9 L309.6,204.0 L311.3,204.8 L313.0,205.3 L315.1,206.8 L314.9,208.4 L315.6,209.5 L313.1,210.2 L311.4,209.4 L309.3,209.6 L307.5,209.0 L305.6,208.4 L303.5,208.4"/>
<path d="M256.4,255.7 L258.4,255.0 L260.0,253.7 L262.4,254.0 L264.5,253.5 L266.7,254.5 L268.7,255.9 L270.8,256.2 L272.8,257.0 L274.3,258.3 L276.3,258.6 L274.1,258.5 L272.1,259.1 L270.4,259.5 L269.0,257.9 L267.4,256.8 L265.4,255.8 L263.6,255.7 L262.0,254.8 L260.2,255.7 L258.1,255.9 L256.4,255.7"/>
<path d="M275.6,261.9 L276.9,260.5 L278.3,259.3 L280.2,259.2 L282.0,259.5 L283.8,259.3 L285.4,260.5 L286.6,261.5 L284.9,262.3 L283.2,262.4 L281.6,262.6 L280.4,263.0 L277.9,262.3 L275.6,261.9"/>
<path d="M268.7,262.3 L270.5,262.5 L272.1,262.7 L270.6,263.4 L268.7,262.3"/>
<path d="M289.0,262.1 L290.4,261.7 L291.7,262.1 L290.4,262.8 L289.0,262.1"/>
<path d="M432.1,151.1 L434.6,150.5 L437.0,149.7 L439.5,149.2 L441.8,149.1 L444.1,149.5 L446.3,148.4 L448.5,148.8 L451.2,148.3 L453.8,148.4 L456.3,149.2 L458.9,149.4 L461.3,148.8 L459.0,149.2 L456.9,150.7 L454.5,151.2 L452.3,152.1 L450.3,152.3 L448.4,152.9 L446.7,153.9 L445.1,154.9 L443.1,154.6 L441.3,154.9 L439.3,154.7 L437.8,153.5 L435.9,152.8 L433.8,152.4 L432.1,151.1"/>
<path d="M506.3,164.9 L507.5,163.7 L509.0,162.9 L510.7,162.4 L511.9,161.0 L513.6,160.5 L515.1,159.3 L516.9,158.9 L518.3,157.6 L520.5,157.2 L522.8,156.7 L525.0,156.0 L527.6,155.7 L529.9,156.0 L532.4,155.6 L534.8,154.5 L537.3,154.8 L535.0,155.6 L532.7,157.1 L530.7,157.6 L528.4,157.6 L526.1,158.0 L524.0,158.6 L521.7,159.5 L520.0,160.4 L518.0,160.9 L516.3,162.3 L515.0,163.2 L514.7,165.0 L512.6,165.2 L510.9,166.0 L508.7,165.0 L506.3,164.9"/>
<path d="M585.9,151.1 L588.4,150.8 L590.3,149.0 L592.9,148.9 L595.1,148.1 L597.4,148.6 L599.5,149.9 L602.1,150.0 L604.5,151.1 L602.0,151.9 L599.7,152.2 L597.3,152.4 L594.8,152.9 L592.7,153.0 L590.4,152.5 L588.1,151.9 L585.9,151.1"/>
<path d="M662.8,158.5 L665.3,158.0 L667.8,157.7 L670.1,156.7 L672.4,157.3 L674.7,157.1 L677.0,157.6 L679.4,157.7 L681.8,157.3 L684.2,157.8 L686.8,158.6 L684.4,158.8 L682.2,158.3 L680.0,159.0 L677.8,158.9 L675.6,158.7 L673.3,159.7 L670.7,159.8 L668.4,160.2 L666.5,159.5 L664.8,158.6 L662.8,158.5"/>
<path d="M738.8,165.8 L740.3,165.9 L741.3,165.1"/>
<path d="M82.5,164.9 L84.8,164.7 L87.3,165.2 L84.8,165.4 L82.7,166.1"/>
<path d="M434.9,226.2 L436.8,226.6 L438.6,226.0 L440.4,225.8 L439.8,227.1 L440.1,228.5 L438.1,228.3 L436.5,227.6 L434.7,227.0 L434.9,226.2"/>
<path d="M427.2,220.7 L429.5,220.7 L430.2,222.4 L429.6,224.2 L427.5,224.6 L427.5,222.5 L427.2,220.7"/>
<path d="M427.9,217.8 L429.4,216.9 L429.2,218.4 L429.4,219.6 L427.9,217.8"/>
<path d="M455.0,230.8 L457.6,230.7 L460.4,231.5 L458.1,232.0 L456.1,231.8 L455.0,230.8"/>
<path d="M471.1,231.7 L473.1,230.9 L475.2,230.5 L473.5,232.4 L471.1,231.7"/>
<path d="M286.6,392.2 L284.8,393.2 L283.0,394.4 L281.0,394.9 L282.9,396.1 L284.8,396.7 L287.3,396.8 L289.6,396.8 L291.2,396.6 L292.8,396.0 L291.1,395.1 L289.3,394.6 L287.9,394.0 L287.1,392.7 L286.6,392.2"/>
<path d="M300.3,390.0 L302.2,390.4 L304.0,389.5 L306.1,389.7 L304.0,391.7 L302.1,391.4 L300.3,390.8 L300.3,390.0"/>
<path d="M638.1,314.6 L639.4,313.4 L640.9,312.2 L642.8,312.1 L644.3,311.4 L643.0,312.1 L641.9,313.5 L640.0,314.3 L638.1,314.6"/>
<path d="M624.4,311.3 L626.2,311.2 L628.0,311.0 L630.0,311.1 L632.2,311.1 L634.5,311.1 L636.7,311.0 L635.0,310.9 L633.5,312.1 L631.7,311.9 L629.2,311.8 L626.8,311.8 L624.1,311.7 L624.4,311.3"/>
<path d="M645.4,293.9 L646.1,292.1 L647.5,293.9 L647.2,295.4 L646.5,296.7 L646.1,295.2 L645.4,293.9"/>
<path d="M646.3,301.6 L648.9,301.1 L651.6,301.8 L649.8,302.0 L648.4,302.1 L646.3,301.6"/>
<path d="M683.9,305.8 L685.7,306.1 L687.7,305.9 L689.2,305.1 L690.1,303.7 L690.2,305.3 L688.3,306.0 L686.5,307.5 L685.2,306.7 L683.9,305.8"/>
<path d="M712.2,332.7 L713.9,334.2 L716.1,334.9 L717.6,336.6 L716.3,336.2 L715.2,335.6 L713.9,333.8 L712.2,332.7"/>
<path d="M126.4,260.1 L128.5,259.6 L127.0,260.8 L126.4,260.1"/>
<path d="M98.1,179.5 L100.4,179.3 L102.7,180.3 L101.2,179.8 L99.9,179.1 L98.1,179.5"/>
<path d="M129.2,190.5 L131.0,189.8 L132.8,189.6 L132.3,190.9 L130.7,190.7 L129.2,190.5"/>
<path d="M177.1,202.9 L178.8,203.6 L180.6,203.6 L182.1,203.7 L184.2,205.3 L186.1,207.2 L184.5,206.9 L183.2,206.4 L181.1,204.9 L178.6,204.1 L177.1,202.9"/>
<path d="M168.5,196.9 L170.7,196.9 L171.8,198.3 L172.0,200.1 L170.7,199.2 L169.4,198.8 L168.5,196.9"/>
<path d="M538.0,385.5 L539.5,385.5 L541.3,385.7 L539.7,386.7 L538.0,385.5"/>
<path d="M342.4,394.6 L344.2,395.3 L346.0,395.2 L345.7,395.9 L344.0,395.4 L342.4,394.6"/>
<path d="M183.2,174.9 L185.2,174.4 L186.6,173.5 L188.7,173.5 L190.5,172.9 L192.3,172.9 L194.3,173.4 L196.1,174.5 L194.8,175.4 L193.3,175.8 L191.0,176.0 L188.8,176.1 L187.4,176.8 L185.9,177.0 L184.5,175.9 L183.2,174.9"/>
<path d="M197.8,184.1 L199.5,182.7 L201.4,181.7 L203.3,181.3 L205.2,181.4 L206.8,180.7 L209.3,180.6 L211.8,181.0 L210.3,182.0 L208.8,182.8 L206.6,183.2 L204.4,183.5 L202.5,184.3 L200.8,184.2 L199.3,183.8 L197.8,184.1"/>
<path d="M207.9,188.3 L210.1,187.3 L212.5,186.9 L214.3,187.5 L216.1,186.9 L218.0,187.1 L216.1,187.3 L214.3,187.2 L212.7,188.0 L210.1,187.5 L207.9,188.3"/>
<path d="M224.4,192.3 L225.3,191.0 L226.2,189.6 L225.2,191.6 L224.4,192.3"/>
<path d="M230.8,197.3 L232.2,196.9 L233.5,197.3 L233.8,199.2 L234.7,200.8 L235.9,202.5 L234.6,203.7 L233.2,201.8 L231.7,199.8 L231.0,198.7 L230.8,197.3"/>
<path d="M243.6,210.3 L245.4,209.1 L247.4,207.7 L248.8,207.0 L250.1,206.5 L252.5,206.2 L254.5,206.8 L256.1,207.3 L256.8,208.7 L257.1,210.6 L255.3,210.5 L253.9,210.5 L252.3,210.0 L250.7,209.5 L249.2,210.4 L247.4,210.4 L245.4,210.3 L243.6,210.3"/>
<path d="M250.9,218.9 L251.4,217.1 L251.5,215.0 L251.5,213.4 L253.0,212.0 L254.2,211.5 L255.9,211.6 L256.5,213.4 L255.2,214.7 L254.2,216.0 L253.7,217.7 L253.5,219.3 L250.9,218.9"/>
<path d="M257.3,211.5 L259.1,211.1 L261.0,211.2 L262.7,212.3 L264.5,212.4 L265.7,214.3 L264.2,214.0 L262.9,214.1 L262.6,216.4 L261.1,217.1 L259.1,215.5 L259.3,213.4 L258.4,212.5 L257.3,211.5"/>
<path d="M259.3,219.4 L261.1,219.8 L262.6,219.8 L265.0,218.4 L267.1,217.4 L265.6,217.5 L263.6,217.6 L262.1,218.3 L260.5,218.4 L259.1,219.2 L259.3,219.4"/>
<path d="M265.9,216.5 L267.6,216.0 L269.1,216.5 L270.9,216.2 L272.4,215.9 L272.0,214.8 L270.5,214.9 L269.0,215.3 L267.9,215.8 L266.6,215.9 L265.9,216.5"/>
<path d="M546.6,212.5 L548.8,211.3 L551.0,210.5 L553.0,210.5 L554.8,210.5 L556.7,210.8 L554.8,210.6 L553.0,211.4 L551.4,211.0 L549.5,212.6 L547.3,213.3 L546.6,212.5"/>
<path d="M602.0,201.3 L603.9,200.0 L606.1,199.9 L607.4,198.4 L609.3,198.1 L610.5,196.9 L612.2,195.6 L612.9,193.9 L611.3,194.2 L610.2,195.8 L608.5,197.5 L607.0,198.9 L605.3,200.0 L603.4,200.2 L602.0,201.3"/>
<path d="M466.9,185.9 L468.1,184.3 L469.5,183.3 L471.0,183.7 L472.5,184.0 L471.5,186.1 L469.2,185.6 L466.9,185.9"/>
<path d="M475.2,184.1 L475.7,182.5 L476.8,181.4 L478.7,183.4 L477.2,184.4 L475.2,184.1"/>
<path d="M470.2,296.7 L471.5,295.2 L472.9,295.4 L474.3,295.5 L475.0,297.7 L473.8,298.8 L473.4,300.3 L472.0,300.0 L470.8,300.4 L470.5,298.5 L470.2,296.7"/>
<path d="M465.6,302.2 L465.7,303.7 L466.6,304.9 L467.4,306.7 L467.6,308.5 L468.6,310.0 L468.6,311.5 L467.6,311.0 L466.5,309.0 L466.1,306.7 L466.1,304.8 L465.4,303.2 L465.6,302.2"/>
<path d="M474.2,313.1 L474.9,314.5 L475.5,315.8 L476.0,317.7 L475.8,319.6 L476.7,321.9 L475.5,321.6 L474.6,319.6 L474.6,317.7 L475.0,316.2 L474.2,315.1 L474.2,313.1"/>
<path d="M461.4,328.3 L463.2,327.5 L464.7,326.4 L464.9,326.9 L463.6,328.0 L461.8,328.5 L461.4,328.3"/>
<path d="M477.9,287.5 L478.3,288.9 L478.7,290.2 L478.9,291.3 L478.4,289.4 L477.9,287.5"/>
<path d="M436.7,271.0 L438.4,271.2 L438.5,272.5 L436.9,272.0 L436.7,271.0"/>
<path d="M232.6,158.5 L230.8,158.3 L229.0,157.5 L227.0,157.3 L225.3,155.8 L227.1,155.8 L228.9,155.0 L230.8,155.2 L232.4,155.5 L233.8,156.7 L232.6,158.5"/>
<path d="M240.8,158.5 L238.5,158.3 L236.1,157.7 L238.0,157.3 L239.5,157.1 L240.8,157.6 L240.8,158.5"/>
<path d="M237.2,169.4 L235.4,170.0 L233.5,169.9 L231.8,170.1 L230.0,168.5 L232.2,168.6 L234.5,167.8 L235.8,168.7 L237.2,169.4"/>
<path d="M200.6,156.6 L198.4,156.5 L196.3,157.0 L194.4,156.8 L192.0,156.4 L189.9,155.8 L187.6,155.6 L190.0,154.8 L192.4,154.1 L194.7,154.9 L197.3,154.1 L199.5,154.6 L200.6,156.6"/>
<path d="M230.8,153.3 L228.5,153.5 L226.2,152.7 L223.9,153.0 L221.7,152.5 L219.7,150.8 L222.1,150.9 L224.4,150.5 L226.7,151.1 L229.0,151.1 L229.5,152.5 L230.8,153.3"/>
<path d="M241.8,153.3 L239.3,152.7 L236.9,153.1 L234.5,153.1 L234.3,151.3 L236.9,151.8 L239.4,151.5 L241.7,152.2 L241.8,153.3"/>
<path d="M272.9,162.1 L271.0,161.7 L269.2,162.0 L267.5,162.4 L265.5,162.0 L263.8,161.4 L265.5,160.5 L267.4,160.5 L269.4,160.5 L271.0,161.5 L272.9,162.1"/>
<path d="M260.1,180.8 L262.3,181.7 L264.6,181.9 L263.5,180.7 L261.8,180.7 L260.1,180.8"/>
<path d="M264.6,181.9 L266.6,183.0 L265.3,181.7 L264.6,181.9"/>
<path d="M261.9,198.7 L263.3,198.6 L264.7,199.3 L262.9,198.4 L261.9,198.7"/>
<path d="M293.9,204.4 L296.3,204.6 L298.7,205.7 L297.1,205.6 L295.7,205.4 L293.9,204.4"/>
<path d="M294.3,210.1 L296.4,210.2 L298.5,210.8 L297.2,211.4 L295.8,211.4 L294.3,210.1"/>
<path d="M299.8,212.3 L301.3,211.3 L302.1,209.9 L302.0,211.9 L299.8,212.3"/>
<path d="M276.5,221.4 L278.5,221.3 L280.1,220.7 L279.3,221.0 L277.9,221.1 L276.5,221.4"/>
<path d="M498.0,148.4 L500.3,148.5 L502.6,148.8 L504.9,148.9 L507.3,149.1 L509.4,149.2 L511.6,148.5 L513.8,148.5 L516.0,148.7 L518.1,149.0 L520.7,148.7 L523.1,148.1 L525.4,147.7 L523.2,147.4 L521.0,146.7 L518.6,147.2 L516.3,146.5 L513.8,146.6 L511.2,147.2 L508.7,147.6 L506.1,147.1 L503.4,147.5 L501.6,147.3 L499.9,148.0 L498.0,148.4"/>
<path d="M500.8,169.4 L502.4,168.7 L503.6,169.4 L502.2,169.5 L500.8,169.4"/>
<path d="M520.0,167.6 L521.3,167.1 L522.6,167.1 L521.7,168.2 L520.0,167.6"/>
<path d="M587.7,149.7 L590.1,150.4 L592.7,150.0 L594.9,150.4 L593.2,150.6 L591.3,150.8 L589.8,151.6 L587.8,150.9 L586.0,150.4 L584.1,150.2 L585.9,149.6 L587.7,149.7"/>
<path d="M595.1,152.6 L597.5,152.9 L600.0,152.6 L602.5,152.2 L603.7,152.9 L605.3,153.0 L603.0,153.1 L600.9,153.5 L598.7,153.4 L597.0,152.6 L595.1,152.6"/>
<path d="M663.7,157.5 L665.8,157.0 L667.9,156.6 L670.1,156.5 L672.0,156.8 L673.9,156.8 L675.6,157.6 L673.8,158.1 L671.9,158.1 L669.9,159.1 L668.3,158.9 L666.5,159.2 L664.6,158.8 L663.7,157.5"/>
<path d="M107.2,197.1 L105.5,197.8"/>
<path d="M103.6,198.2 L101.9,198.9"/>
<path d="M96.2,199.8 L94.4,200.1 L92.4,200.6"/>
<path d="M89.8,200.7 L88.1,201.5 L86.2,201.2"/>
<path d="M727.8,198.9 L729.2,199.1 L730.6,199.2"/>
<path d="M736.9,200.7 L738.9,200.6 L740.4,201.4"/>
<path d="M679.3,214.5 L681.1,214.3 L682.6,213.2 L684.1,212.7"/>
<path d="M685.7,211.9 L687.7,210.9"/>
<path d="M690.3,209.5 L691.5,208.6 L692.7,207.5"/>
<path d="M695.8,205.1 L696.3,203.8 L697.6,203.2"/>
<path d="M545.1,274.7 L545.5,276.4"/>
<path d="M545.6,282.9 L545.8,284.8 L546.3,286.5 L545.9,288.0 L546.6,289.6"/>
<path d="M546.2,292.1 L546.1,293.6 L545.9,295.3 L546.0,296.9"/>
<path d="M581.9,271.0 L582.2,272.4 L582.2,273.6 L581.4,275.9"/>
<path d="M583.5,280.2 L583.7,281.6 L583.7,283.1"/>
<path d="M695.2,305.8 L696.2,307.0 L697.2,308.3"/>
<path d="M698.5,307.8 L699.7,308.7 L700.7,309.9 L702.3,310.7 L704.1,311.1"/>
<path d="M704.4,312.8 L706.5,313.9"/>
<path d="M706.2,310.9 L707.5,313.2"/>
<path d="M707.3,314.4 L708.9,315.5"/>
<path d="M717.0,322.7 L717.9,324.3 L717.5,323.4"/>
<path d="M718.5,325.4 L718.9,326.2"/>
<path d="M719.9,328.0 L720.6,328.3"/>
<path d="M721.7,330.2 L722.1,331.4"/>
<path d="M688.1,300.7 L690.3,301.9 L691.2,302.9 L692.1,303.9"/>
<path d="M736.6,327.8 L739.2,327.8 L738.2,328.9 L736.6,327.8"/>
<path d="M739.1,326.3 L741.3,325.4"/>
<path d="M268.7,246.9 L270.9,247.4"/>
<path d="M268.9,250.0 L269.6,251.5"/>
<path d="M272.3,250.9 L274.0,252.6"/>
<path d="M277.1,257.1 L278.3,256.8"/>
<path d="M298.7,277.3 L300.3,275.9 L300.2,277.0 L298.7,277.3"/>
<path d="M416.4,223.4 L418.4,223.1"/>
<path d="M645.8,248.0 L647.0,246.9"/>
<path d="M648.7,244.1 L649.7,243.5"/>
<path d="M298.5,411.1 L300.4,411.2 L302.0,410.2 L303.7,410.3 L305.1,409.5"/>
<path d="M327.4,406.7 L328.8,406.5 L330.4,406.8"/>
<path d="M626.7,280.2 L627.9,279.2 L629.0,278.2 L631.0,276.5 L630.2,275.1"/>
<path d="M639.6,272.9 L641.4,273.6 L641.8,275.2 L640.7,276.9 L640.7,274.9 L639.6,272.9"/>
<path d="M636.3,276.2 L637.8,276.4 L637.1,279.0 L636.1,278.2 L636.3,276.2"/>
<path d="M635.3,274.2 L637.3,274.9 L636.7,276.2 L635.1,276.1 L635.3,274.2"/>
<path d="M632.4,271.2 L634.2,271.5 L633.7,273.4 L633.2,272.4 L632.4,271.2"/>
<path d="M621.6,310.8 L623.6,310.9 L625.5,311.2 L626.3,312.1 L624.5,311.9 L623.1,312.0 L621.6,310.8"/>
<path d="M629.8,313.1 L631.5,313.5 L633.2,313.7 L631.9,314.7 L629.8,313.1"/>
<path d="M642.7,301.6 L644.6,302.2 L643.8,302.6 L642.7,301.6"/>
<path d="M604.8,298.7 L606.0,299.5 L607.3,300.4 L606.0,301.4 L605.2,300.1 L604.8,298.7"/>
<path d="M483.8,306.4 L484.1,307.4"/>
<path d="M509.6,272.7 L511.5,273.1"/>
<path d="M654.2,233.7 L656.2,233.1 L658.3,233.1 L657.8,234.2 L656.5,234.8 L655.7,235.6 L654.2,233.7"/>
<path d="M276.2,372.6 L277.6,373.0 L277.0,375.1 L275.7,374.7 L276.2,372.6"/>
<path d="M274.2,383.6 L275.5,385.5 L274.7,386.6 L273.6,388.0"/>
<path d="M319.0,296.1 L321.5,296.3 L323.3,297.1 L322.3,298.2 L320.9,298.5 L319.2,297.3 L319.0,296.1"/>
</g>
<g clip-path="url(#fr)" fill="none" stroke="#000" stroke-width="0.85" stroke-linejoin="round">
<path d="M75.0,440.0 L83.0,440.0 L105.0,439.5 L122.5,437.5 L145.0,433.8 L165.0,432.0 L183.8,430.0 L197.5,431.2 L212.5,432.5 L215.0,434.0 L218.0,431.0 L222.0,432.0 L225.0,428.8 L237.5,428.0 L247.0,430.0 L255.0,430.0 L262.0,429.0 L266.0,431.0 L270.0,430.0 L274.0,428.5 L272.0,426.5 L276.0,427.0 L282.0,425.0 L285.0,421.0 L290.0,417.5 L296.0,414.0 L302.0,411.5 L308.0,408.5 L311.0,407.5 L307.0,411.0 L302.0,414.5 L299.5,419.0 L300.0,426.0 L301.0,431.0 L304.0,434.5 L312.0,436.0 L325.0,438.8 L338.0,438.5 L350.0,437.5 L362.5,433.8 L375.0,430.0 L390.0,426.2 L400.0,424.0 L410.0,422.5 L412.0,421.0 L415.0,423.0 L420.0,423.8 L435.0,422.5 L445.0,424.5 L455.0,424.5 L465.0,423.0 L473.8,422.0 L480.0,423.8 L486.0,421.0 L492.5,420.0 L500.0,418.0 L510.0,416.2 L518.0,417.5 L525.0,418.8 L535.0,420.0 L545.0,421.2 L550.0,423.8 L555.0,421.5 L560.0,418.8 L565.0,416.2 L575.0,416.5 L585.0,416.2 L595.0,415.0 L603.0,417.0 L610.0,417.5 L620.0,416.2 L635.0,417.5 L648.0,417.0 L660.0,416.2 L670.0,418.0 L680.0,420.0 L690.0,421.0 L700.0,422.5 L708.0,424.5 L715.0,426.2 L723.8,427.5 L722.0,430.0 L717.0,432.5 L710.0,435.0 L712.5,437.5 L720.0,438.0 L730.0,438.5 L741.0,439.5 L750.0,439.5"/>
</g>
<g fill="#000">
<rect x="126.7" y="259.2" width="1.3" height="1.3"/>
<rect x="125.2" y="257.0" width="1.3" height="1.3"/>
<rect x="124.0" y="256.5" width="1.3" height="1.3"/>
<rect x="122.1" y="255.7" width="1.3" height="1.3"/>
<rect x="119.4" y="254.8" width="1.3" height="1.3"/>
<rect x="244.4" y="295.8" width="1.3" height="1.3"/>
<rect x="245.9" y="296.2" width="1.3" height="1.3"/>
<rect x="247.5" y="296.8" width="1.3" height="1.3"/>
<rect x="244.8" y="296.8" width="1.3" height="1.3"/>
<rect x="367.1" y="265.8" width="1.3" height="1.3"/>
<rect x="368.3" y="267.6" width="1.3" height="1.3"/>
<rect x="365.4" y="264.0" width="1.3" height="1.3"/>
<rect x="369.4" y="265.4" width="1.3" height="1.3"/>
<rect x="366.9" y="267.8" width="1.3" height="1.3"/>
<rect x="381.2" y="243.3" width="1.3" height="1.3"/>
<rect x="383.0" y="243.8" width="1.3" height="1.3"/>
<rect x="385.7" y="242.9" width="1.3" height="1.3"/>
<rect x="378.6" y="242.6" width="1.3" height="1.3"/>
<rect x="386.5" y="242.0" width="1.3" height="1.3"/>
<rect x="364.7" y="225.9" width="1.3" height="1.3"/>
<rect x="360.1" y="224.6" width="1.3" height="1.3"/>
<rect x="361.6" y="224.3" width="1.3" height="1.3"/>
<rect x="354.4" y="222.8" width="1.3" height="1.3"/>
<rect x="380.2" y="235.2" width="1.3" height="1.3"/>
<rect x="292.9" y="236.0" width="1.3" height="1.3"/>
<rect x="388.8" y="363.0" width="1.3" height="1.3"/>
<rect x="400.9" y="324.4" width="1.3" height="1.3"/>
<rect x="385.0" y="309.7" width="1.3" height="1.3"/>
<rect x="423.4" y="294.6" width="1.3" height="1.3"/>
<rect x="427.3" y="288.7" width="1.3" height="1.3"/>
<rect x="424.9" y="292.2" width="1.3" height="1.3"/>
<rect x="490.6" y="316.5" width="1.3" height="1.3"/>
<rect x="492.6" y="317.4" width="1.3" height="1.3"/>
<rect x="494.1" y="318.5" width="1.3" height="1.3"/>
<rect x="516.6" y="332.3" width="1.3" height="1.3"/>
<rect x="513.0" y="333.7" width="1.3" height="1.3"/>
<rect x="513.0" y="303.5" width="1.3" height="1.3"/>
<rect x="527.4" y="331.2" width="1.3" height="1.3"/>
<rect x="480.6" y="380.8" width="1.3" height="1.3"/>
<rect x="553.2" y="364.7" width="1.3" height="1.3"/>
<rect x="362.8" y="400.9" width="1.3" height="1.3"/>
<rect x="417.6" y="394.7" width="1.3" height="1.3"/>
<rect x="702.4" y="395.1" width="1.3" height="1.3"/>
<rect x="715.2" y="387.9" width="1.3" height="1.3"/>
<rect x="720.7" y="391.2" width="1.3" height="1.3"/>
<rect x="88.3" y="375.7" width="1.3" height="1.3"/>
<rect x="393.2" y="368.9" width="1.3" height="1.3"/>
<rect x="96.5" y="320.2" width="1.3" height="1.3"/>
<rect x="98.3" y="321.1" width="1.3" height="1.3"/>
<rect x="90.6" y="333.9" width="1.3" height="1.3"/>
<rect x="92.8" y="329.2" width="1.3" height="1.3"/>
<rect x="137.7" y="327.3" width="1.3" height="1.3"/>
<rect x="134.0" y="325.7" width="1.3" height="1.3"/>
<rect x="155.1" y="311.6" width="1.3" height="1.3"/>
<rect x="156.9" y="313.0" width="1.3" height="1.3"/>
<rect x="154.7" y="311.2" width="1.3" height="1.3"/>
<rect x="145.0" y="323.5" width="1.3" height="1.3"/>
<rect x="149.6" y="325.9" width="1.3" height="1.3"/>
<rect x="153.2" y="328.6" width="1.3" height="1.3"/>
<rect x="157.3" y="335.0" width="1.3" height="1.3"/>
<rect x="164.2" y="337.4" width="1.3" height="1.3"/>
<rect x="173.2" y="341.1" width="1.3" height="1.3"/>
<rect x="182.9" y="340.3" width="1.3" height="1.3"/>
<rect x="211.1" y="344.7" width="1.3" height="1.3"/>
<rect x="118.8" y="333.9" width="1.3" height="1.3"/>
<rect x="122.3" y="335.2" width="1.3" height="1.3"/>
<rect x="122.1" y="311.6" width="1.3" height="1.3"/>
<rect x="116.6" y="314.1" width="1.3" height="1.3"/>
<rect x="96.9" y="311.9" width="1.3" height="1.3"/>
<rect x="95.6" y="310.7" width="1.3" height="1.3"/>
<rect x="97.0" y="300.2" width="1.3" height="1.3"/>
<rect x="91.9" y="303.3" width="1.3" height="1.3"/>
<rect x="88.3" y="294.7" width="1.3" height="1.3"/>
<rect x="114.6" y="284.3" width="1.3" height="1.3"/>
<rect x="117.7" y="286.5" width="1.3" height="1.3"/>
<rect x="123.2" y="291.6" width="1.3" height="1.3"/>
<rect x="119.7" y="288.0" width="1.3" height="1.3"/>
<rect x="126.0" y="302.4" width="1.3" height="1.3"/>
<rect x="133.5" y="316.0" width="1.3" height="1.3"/>
<rect x="728.1" y="292.5" width="1.3" height="1.3"/>
<rect x="727.9" y="289.6" width="1.3" height="1.3"/>
<rect x="730.8" y="296.2" width="1.3" height="1.3"/>
<rect x="733.5" y="297.8" width="1.3" height="1.3"/>
<rect x="716.9" y="296.0" width="1.3" height="1.3"/>
<rect x="721.6" y="296.8" width="1.3" height="1.3"/>
<rect x="724.8" y="282.1" width="1.3" height="1.3"/>
<rect x="720.2" y="281.7" width="1.3" height="1.3"/>
<rect x="718.3" y="279.2" width="1.3" height="1.3"/>
<rect x="715.2" y="274.4" width="1.3" height="1.3"/>
<rect x="708.5" y="274.2" width="1.3" height="1.3"/>
<rect x="709.7" y="285.4" width="1.3" height="1.3"/>
<rect x="701.0" y="282.5" width="1.3" height="1.3"/>
<rect x="689.2" y="281.6" width="1.3" height="1.3"/>
<rect x="676.4" y="270.4" width="1.3" height="1.3"/>
<rect x="678.1" y="267.3" width="1.3" height="1.3"/>
<rect x="678.3" y="262.2" width="1.3" height="1.3"/>
<rect x="664.2" y="277.7" width="1.3" height="1.3"/>
<rect x="657.6" y="281.6" width="1.3" height="1.3"/>
<rect x="651.5" y="289.6" width="1.3" height="1.3"/>
<rect x="739.4" y="310.7" width="1.3" height="1.3"/>
<rect x="738.1" y="308.8" width="1.3" height="1.3"/>
<rect x="735.9" y="306.5" width="1.3" height="1.3"/>
<rect x="734.5" y="305.5" width="1.3" height="1.3"/>
<rect x="85.3" y="321.3" width="1.3" height="1.3"/>
<rect x="88.8" y="319.5" width="1.3" height="1.3"/>
<rect x="298.8" y="265.4" width="1.3" height="1.3"/>
<rect x="299.7" y="268.4" width="1.3" height="1.3"/>
<rect x="299.7" y="269.7" width="1.3" height="1.3"/>
<rect x="299.3" y="270.9" width="1.3" height="1.3"/>
<rect x="298.4" y="273.0" width="1.3" height="1.3"/>
<rect x="302.4" y="270.9" width="1.3" height="1.3"/>
<rect x="298.2" y="263.8" width="1.3" height="1.3"/>
<rect x="296.4" y="263.4" width="1.3" height="1.3"/>
<rect x="296.0" y="262.0" width="1.3" height="1.3"/>
<rect x="292.7" y="261.6" width="1.3" height="1.3"/>
<rect x="285.2" y="272.8" width="1.3" height="1.3"/>
<rect x="283.2" y="272.2" width="1.3" height="1.3"/>
<rect x="262.5" y="259.8" width="1.3" height="1.3"/>
<rect x="265.3" y="259.0" width="1.3" height="1.3"/>
<rect x="395.8" y="165.1" width="1.3" height="1.3"/>
<rect x="398.5" y="181.6" width="1.3" height="1.3"/>
<rect x="409.2" y="184.7" width="1.3" height="1.3"/>
<rect x="405.9" y="187.1" width="1.3" height="1.3"/>
<rect x="399.5" y="189.8" width="1.3" height="1.3"/>
<rect x="398.5" y="190.4" width="1.3" height="1.3"/>
<rect x="446.1" y="158.9" width="1.3" height="1.3"/>
<rect x="403.1" y="195.9" width="1.3" height="1.3"/>
<rect x="413.9" y="223.7" width="1.3" height="1.3"/>
<rect x="437.7" y="229.4" width="1.3" height="1.3"/>
<rect x="458.0" y="227.7" width="1.3" height="1.3"/>
<rect x="461.2" y="229.2" width="1.3" height="1.3"/>
<rect x="462.6" y="228.8" width="1.3" height="1.3"/>
<rect x="459.0" y="224.8" width="1.3" height="1.3"/>
<rect x="459.5" y="223.3" width="1.3" height="1.3"/>
<rect x="456.2" y="224.1" width="1.3" height="1.3"/>
<rect x="449.1" y="225.0" width="1.3" height="1.3"/>
<rect x="716.2" y="315.6" width="1.3" height="1.3"/>
<rect x="718.9" y="348.2" width="1.3" height="1.3"/>
<rect x="702.4" y="352.8" width="1.3" height="1.3"/>
<rect x="85.5" y="348.7" width="1.3" height="1.3"/>
<rect x="588.6" y="317.3" width="1.3" height="1.3"/>
<rect x="604.9" y="314.3" width="1.3" height="1.3"/>
<rect x="543.9" y="308.5" width="1.3" height="1.3"/>
<rect x="542.2" y="304.8" width="1.3" height="1.3"/>
<rect x="639.3" y="250.4" width="1.3" height="1.3"/>
<rect x="638.0" y="250.6" width="1.3" height="1.3"/>
<rect x="643.5" y="234.0" width="1.3" height="1.3"/>
<rect x="647.0" y="235.1" width="1.3" height="1.3"/>
<rect x="648.1" y="232.3" width="1.3" height="1.3"/>
<rect x="651.0" y="226.5" width="1.3" height="1.3"/>
<rect x="666.5" y="231.6" width="1.3" height="1.3"/>
<rect x="667.3" y="234.5" width="1.3" height="1.3"/>
<rect x="671.7" y="245.7" width="1.3" height="1.3"/>
<rect x="670.0" y="249.7" width="1.3" height="1.3"/>
<rect x="691.4" y="207.6" width="1.3" height="1.3"/>
<rect x="694.6" y="205.0" width="1.3" height="1.3"/>
<rect x="167.9" y="196.3" width="1.3" height="1.3"/>
<rect x="117.5" y="194.4" width="1.3" height="1.3"/>
<rect x="100.2" y="190.8" width="1.3" height="1.3"/>
<rect x="101.1" y="191.5" width="1.3" height="1.3"/>
<rect x="94.7" y="184.4" width="1.3" height="1.3"/>
<rect x="107.5" y="184.9" width="1.3" height="1.3"/>
<rect x="300.2" y="389.7" width="1.3" height="1.3"/>
<rect x="343.6" y="394.5" width="1.3" height="1.3"/>
<rect x="283.2" y="396.9" width="1.3" height="1.3"/>
<rect x="287.8" y="397.3" width="1.3" height="1.3"/>
<rect x="275.0" y="390.3" width="1.3" height="1.3"/>
<rect x="274.1" y="381.1" width="1.3" height="1.3"/>
<rect x="631.0" y="284.3" width="1.3" height="1.3"/>
<rect x="632.9" y="284.1" width="1.3" height="1.3"/>
<rect x="645.5" y="310.1" width="1.3" height="1.3"/>
<rect x="648.8" y="309.4" width="1.3" height="1.3"/>
<rect x="652.1" y="309.2" width="1.3" height="1.3"/>
<rect x="651.0" y="310.1" width="1.3" height="1.3"/>
<rect x="657.6" y="306.5" width="1.3" height="1.3"/>
<rect x="657.2" y="305.7" width="1.3" height="1.3"/>
<rect x="649.3" y="298.6" width="1.3" height="1.3"/>
<rect x="644.6" y="296.4" width="1.3" height="1.3"/>
<rect x="644.6" y="293.6" width="1.3" height="1.3"/>
<rect x="643.5" y="287.2" width="1.3" height="1.3"/>
<rect x="641.1" y="288.5" width="1.3" height="1.3"/>
<rect x="680.5" y="298.8" width="1.3" height="1.3"/>
<rect x="685.4" y="297.8" width="1.3" height="1.3"/>
<rect x="690.7" y="311.9" width="1.3" height="1.3"/>
<rect x="688.1" y="313.2" width="1.3" height="1.3"/>
<rect x="692.4" y="316.2" width="1.3" height="1.3"/>
<rect x="693.6" y="315.8" width="1.3" height="1.3"/>
<rect x="687.4" y="312.3" width="1.3" height="1.3"/>
<rect x="695.5" y="306.1" width="1.3" height="1.3"/>
<rect x="503.8" y="247.5" width="1.3" height="1.3"/>
<rect x="514.4" y="246.2" width="1.3" height="1.3"/>
<rect x="488.2" y="264.3" width="1.3" height="1.3"/>
<rect x="484.6" y="266.4" width="1.3" height="1.3"/>
</g>
<g stroke="#444" stroke-width="1.2" fill="none">
<rect x="82.5" y="131.0" width="659.0" height="329.5"/>
<path d="M82.5,131.0v8M82.5,460.5v-8M100.8,131.0v4.2M100.8,460.5v-4.2M119.1,131.0v4.2M119.1,460.5v-4.2M137.4,131.0v4.2M137.4,460.5v-4.2M155.7,131.0v4.2M155.7,460.5v-4.2M174.0,131.0v4.2M174.0,460.5v-4.2M192.3,131.0v8M192.3,460.5v-8M210.6,131.0v4.2M210.6,460.5v-4.2M228.9,131.0v4.2M228.9,460.5v-4.2M247.3,131.0v4.2M247.3,460.5v-4.2M265.6,131.0v4.2M265.6,460.5v-4.2M283.9,131.0v4.2M283.9,460.5v-4.2M302.2,131.0v8M302.2,460.5v-8M320.5,131.0v4.2M320.5,460.5v-4.2M338.8,131.0v4.2M338.8,460.5v-4.2M357.1,131.0v4.2M357.1,460.5v-4.2M375.4,131.0v4.2M375.4,460.5v-4.2M393.7,131.0v4.2M393.7,460.5v-4.2M412.0,131.0v8M412.0,460.5v-8M430.3,131.0v4.2M430.3,460.5v-4.2M448.6,131.0v4.2M448.6,460.5v-4.2M466.9,131.0v4.2M466.9,460.5v-4.2M485.2,131.0v4.2M485.2,460.5v-4.2M503.5,131.0v4.2M503.5,460.5v-4.2M521.8,131.0v8M521.8,460.5v-8M540.1,131.0v4.2M540.1,460.5v-4.2M558.5,131.0v4.2M558.5,460.5v-4.2M576.8,131.0v4.2M576.8,460.5v-4.2M595.1,131.0v4.2M595.1,460.5v-4.2M613.4,131.0v4.2M613.4,460.5v-4.2M631.7,131.0v8M631.7,460.5v-8M650.0,131.0v4.2M650.0,460.5v-4.2M668.3,131.0v4.2M668.3,460.5v-4.2M686.6,131.0v4.2M686.6,460.5v-4.2M704.9,131.0v4.2M704.9,460.5v-4.2M723.2,131.0v4.2M723.2,460.5v-4.2M741.5,131.0v8M741.5,460.5v-8M82.5,460.5h4.2M741.5,460.5h-4.2M82.5,442.2h8M741.5,442.2h-8M82.5,423.9h4.2M741.5,423.9h-4.2M82.5,405.6h4.2M741.5,405.6h-4.2M82.5,387.3h4.2M741.5,387.3h-4.2M82.5,369.0h8M741.5,369.0h-8M82.5,350.7h4.2M741.5,350.7h-4.2M82.5,332.4h4.2M741.5,332.4h-4.2M82.5,314.1h4.2M741.5,314.1h-4.2M82.5,295.8h8M741.5,295.8h-8M82.5,277.4h4.2M741.5,277.4h-4.2M82.5,259.1h4.2M741.5,259.1h-4.2M82.5,240.8h4.2M741.5,240.8h-4.2M82.5,222.5h8M741.5,222.5h-8M82.5,204.2h4.2M741.5,204.2h-4.2M82.5,185.9h4.2M741.5,185.9h-4.2M82.5,167.6h4.2M741.5,167.6h-4.2M82.5,149.3h8M741.5,149.3h-8M82.5,131.0h4.2M741.5,131.0h-4.2" stroke-width="1"/>
</g>
<rect x="85.25" y="503.5" width="59.50" height="11.8" fill="#8000e0" stroke="#222" stroke-width="0.9"/>
<rect x="144.75" y="503.5" width="59.50" height="11.8" fill="#2020e0" stroke="#222" stroke-width="0.9"/>
<rect x="204.25" y="503.5" width="59.50" height="11.8" fill="#0080e0" stroke="#222" stroke-width="0.9"/>
<rect x="263.75" y="503.5" width="59.50" height="11.8" fill="#00c0e0" stroke="#222" stroke-width="0.9"/>
<rect x="323.25" y="503.5" width="59.50" height="11.8" fill="#00e0c0" stroke="#222" stroke-width="0.9"/>
<rect x="382.75" y="503.5" width="59.50" height="11.8" fill="#e8e8e8" stroke="#222" stroke-width="0.9"/>
<rect x="442.25" y="503.5" width="59.50" height="11.8" fill="#c0e000" stroke="#222" stroke-width="0.9"/>
<rect x="501.75" y="503.5" width="59.50" height="11.8" fill="#e0b000" stroke="#222" stroke-width="0.9"/>
<rect x="561.25" y="503.5" width="59.50" height="11.8" fill="#e08000" stroke="#222" stroke-width="0.9"/>
<rect x="620.75" y="503.5" width="59.50" height="11.8" fill="#e04000" stroke="#222" stroke-width="0.9"/>
<rect x="680.25" y="503.5" width="59.50" height="11.8" fill="#e00000" stroke="#222" stroke-width="0.9"/>
</svg>
<div class="t" style="left:413.8px;top:86.87px;font-size:31.2px;transform-origin:50% 100%;transform:translate(-50%,-100%);">Velocity Potential at 200 hPa (km2/s)</div>
<div class="t" style="left:188.8px;top:109.85px;font-size:15.7px;transform-origin:0 100%;transform:translate(0,-100%);">rmsd= 1.3905 diff= 0.000454176</div>
<div class="t" style="left:412px;top:123.44px;font-size:17.5px;transform-origin:50% 100%;transform:translate(-50%,-100%);">0736kyr BP - 0000kyr BP</div>
<div class="t" style="left:82.2px;top:129.64px;font-size:17.5px;transform-origin:0 100%;transform:translate(0,-100%);">Expt = tfMEq-tfmea</div>
<div class="t" style="left:742.2px;top:126.84px;font-size:17.5px;transform-origin:100% 100%;transform:translate(-100%,-100%);">JAN</div>
<div class="t" style="left:74.4px;top:157.47px;font-size:15.8px;transform-origin:100% 100%;transform:translate(-100%,-100%);">80N</div>
<div class="t" style="left:74.4px;top:230.7px;font-size:15.8px;transform-origin:100% 100%;transform:translate(-100%,-100%);">40N</div>
<div class="t" style="left:74.4px;top:303.92px;font-size:15.8px;transform-origin:100% 100%;transform:translate(-100%,-100%);">0</div>
<div class="t" style="left:74.4px;top:377.15px;font-size:15.8px;transform-origin:100% 100%;transform:translate(-100%,-100%);">40S</div>
<div class="t" style="left:74.4px;top:450.37px;font-size:15.8px;transform-origin:100% 100%;transform:translate(-100%,-100%);">80S</div>
<div class="t" style="left:82.5px;top:483.97px;font-size:15.8px;transform-origin:50% 100%;transform:translate(-50%,-100%);">180</div>
<div class="t" style="left:192.336px;top:483.97px;font-size:15.8px;transform-origin:50% 100%;transform:translate(-50%,-100%);">120W</div>
<div class="t" style="left:302.172px;top:483.97px;font-size:15.8px;transform-origin:50% 100%;transform:translate(-50%,-100%);">60W</div>
<div class="t" style="left:412.008px;top:483.97px;font-size:15.8px;transform-origin:50% 100%;transform:translate(-50%,-100%);">0</div>
<div class="t" style="left:521.844px;top:483.97px;font-size:15.8px;transform-origin:50% 100%;transform:translate(-50%,-100%);">60E</div>
<div class="t" style="left:631.68px;top:483.97px;font-size:15.8px;transform-origin:50% 100%;transform:translate(-50%,-100%);">120E</div>
<div class="t" style="left:741.516px;top:483.97px;font-size:15.8px;transform-origin:50% 100%;transform:translate(-50%,-100%);">180</div>
<div class="t" style="left:144.75px;top:535.29px;font-size:19px;transform-origin:50% 100%;transform:translate(-50%,-100%);">-4</div>
<div class="t" style="left:204.25px;top:535.29px;font-size:19px;transform-origin:50% 100%;transform:translate(-50%,-100%);">-2</div>
<div class="t" style="left:263.75px;top:535.29px;font-size:19px;transform-origin:50% 100%;transform:translate(-50%,-100%);">-1</div>
<div class="t" style="left:323.25px;top:535.29px;font-size:19px;transform-origin:50% 100%;transform:translate(-50%,-100%);">-0.5</div>
<div class="t" style="left:382.75px;top:535.29px;font-size:19px;transform-origin:50% 100%;transform:translate(-50%,-100%);">-0.2</div>
<div class="t" style="left:442.25px;top:535.29px;font-size:19px;transform-origin:50% 100%;transform:translate(-50%,-100%);">0.2</div>
<div class="t" style="left:501.75px;top:535.29px;font-size:19px;transform-origin:50% 100%;transform:translate(-50%,-100%);">0.5</div>
<div class="t" style="left:561.25px;top:535.29px;font-size:19px;transform-origin:50% 100%;transform:translate(-50%,-100%);">1</div>
<div class="t" style="left:620.75px;top:535.29px;font-size:19px;transform-origin:50% 100%;transform:translate(-50%,-100%);">2</div>
<div class="t" style="left:680.25px;top:535.29px;font-size:19px;transform-origin:50% 100%;transform:translate(-50%,-100%);">4</div>
</body></html>
